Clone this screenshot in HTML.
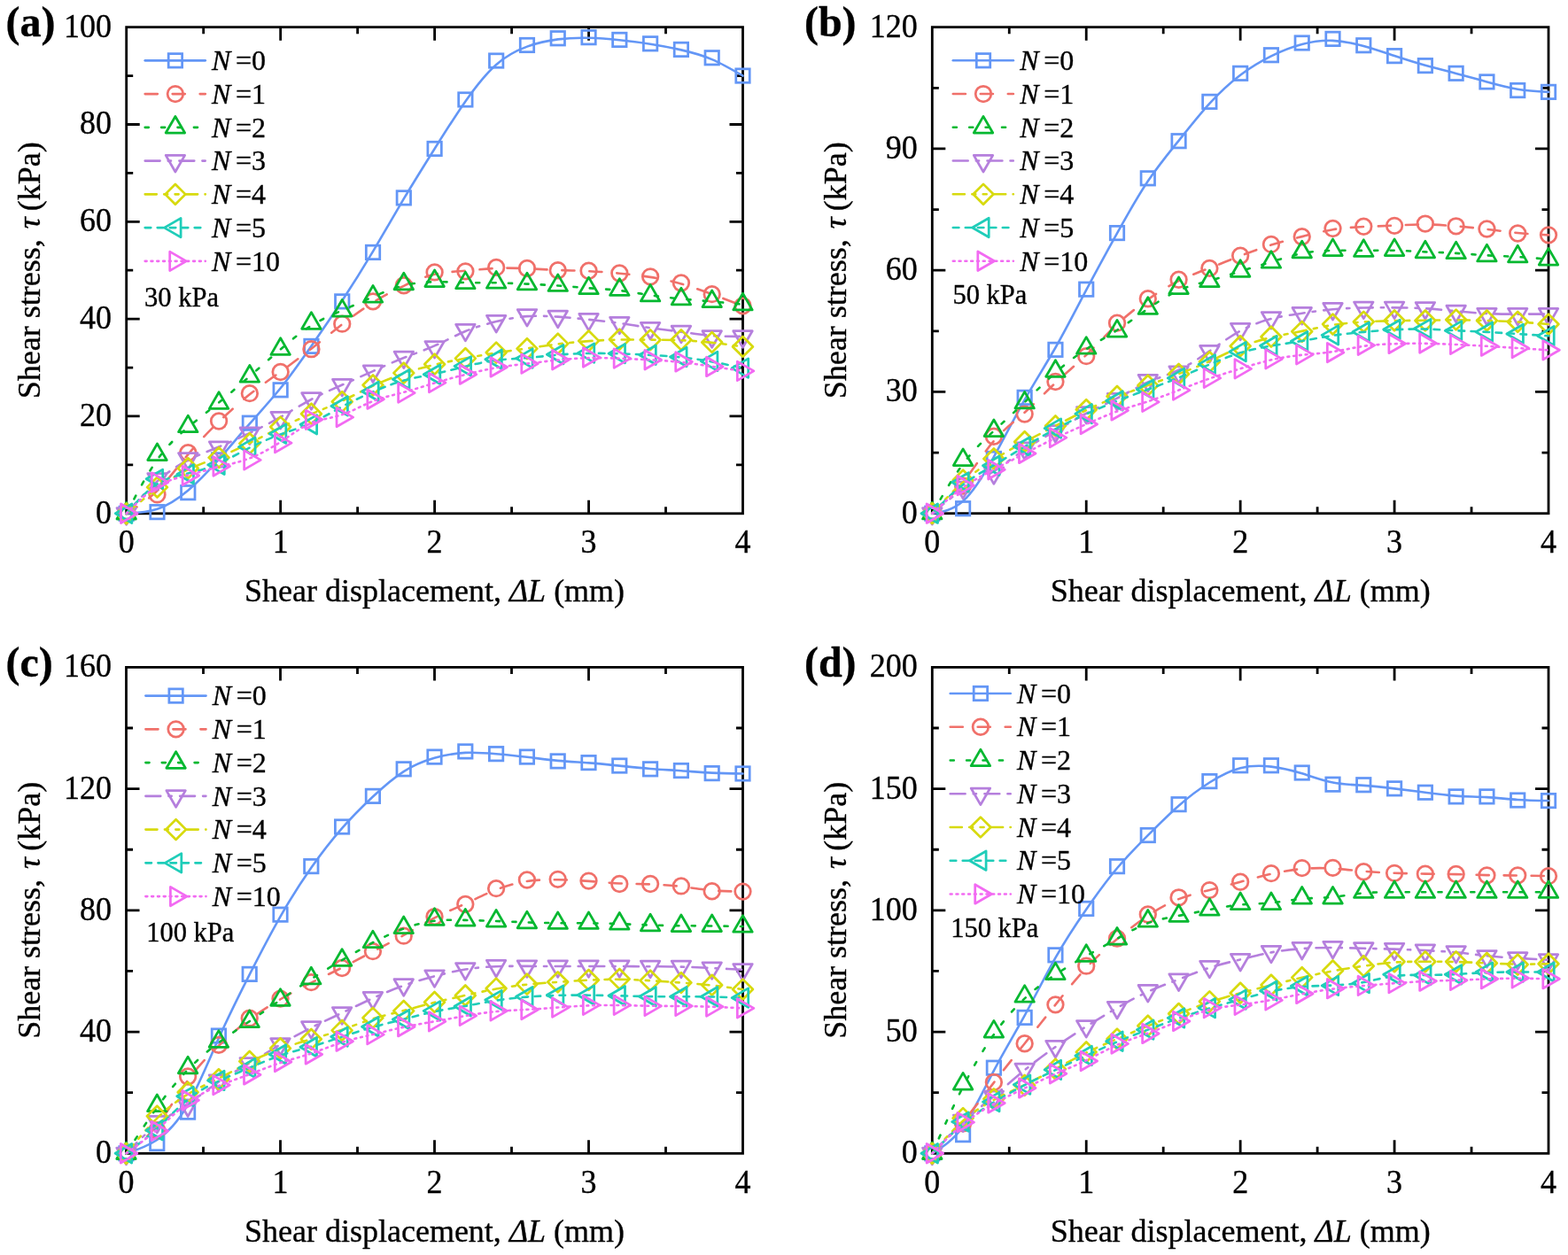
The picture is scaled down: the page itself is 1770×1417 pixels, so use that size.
<!DOCTYPE html>
<html><head><meta charset="utf-8"><style>
html,body{margin:0;padding:0;background:#fff;}
svg{display:block;}
text{font-family:"Liberation Serif","Times New Roman",serif;fill:#000;stroke:#000;stroke-width:0.35px;}
.tk text{font-size:36px;}
.tt{font-size:36px;}
.pl{font-size:48px;font-weight:bold;}
.lg{font-size:32px;}
.pr{font-size:30.5px;}
</style></head><body>
<svg width="1770" height="1417" viewBox="0 0 1770 1417">
<rect width="1770" height="1417" fill="#fff"/>
<path d="M229.67,579.80V572.30M229.67,30.65V38.15M316.65,579.80V564.80M316.65,30.65V45.65M403.62,579.80V572.30M403.62,30.65V38.15M490.60,579.80V564.80M490.60,30.65V45.65M577.58,579.80V572.30M577.58,30.65V38.15M664.55,579.80V564.80M664.55,30.65V45.65M751.52,579.80V572.30M751.52,30.65V38.15M142.70,524.88H150.20M838.50,524.88H831.00M142.70,469.97H157.70M838.50,469.97H823.50M142.70,415.05H150.20M838.50,415.05H831.00M142.70,360.14H157.70M838.50,360.14H823.50M142.70,305.22H150.20M838.50,305.22H831.00M142.70,250.31H157.70M838.50,250.31H823.50M142.70,195.39H150.20M838.50,195.39H831.00M142.70,140.48H157.70M838.50,140.48H823.50M142.70,85.56H150.20M838.50,85.56H831.00" stroke="#000" stroke-width="2.8" fill="none"/>
<rect x="142.70" y="30.65" width="695.80" height="549.15" fill="none" stroke="#000" stroke-width="2.8" stroke-linejoin="miter"/>
<path d="M142.70,579.80C154.30,579.25 165.89,578.70 177.49,574.77C189.09,570.83 200.68,563.51 212.28,553.72C223.88,543.92 235.47,531.66 247.07,518.57C258.67,505.48 270.26,491.57 281.86,478.39C293.46,465.21 305.05,452.76 316.65,438.30C328.25,423.84 339.84,407.37 351.44,390.71C363.04,374.05 374.63,357.21 386.23,339.55C397.83,321.88 409.42,303.39 421.02,283.90C432.62,264.40 444.21,243.90 455.81,224.41C467.41,204.91 479.00,186.43 490.60,167.94C502.20,149.45 513.79,130.96 525.39,114.40C536.99,97.83 548.58,83.19 560.18,72.93C571.78,62.68 583.37,56.83 594.97,52.62C606.57,48.41 618.16,45.84 629.76,44.38C641.36,42.91 652.95,42.55 664.55,42.82C676.15,43.10 687.74,44.01 699.34,45.20C710.94,46.39 722.53,47.86 734.13,49.69C745.73,51.52 757.32,53.71 768.92,56.37C780.52,59.02 792.11,62.13 803.71,67.08C815.31,72.02 826.90,78.79 838.50,85.56" fill="none" stroke="#6396F6" stroke-width="2.6" stroke-linecap="round" stroke-linejoin="round"/>
<rect x="134.98" y="572.08" width="15.44" height="15.44" fill="none" stroke="#6396F6" stroke-width="2.75"/>
<rect x="169.77" y="570.43" width="15.44" height="15.44" fill="none" stroke="#6396F6" stroke-width="2.75"/>
<rect x="204.56" y="548.47" width="15.44" height="15.44" fill="none" stroke="#6396F6" stroke-width="2.75"/>
<rect x="239.35" y="511.67" width="15.44" height="15.44" fill="none" stroke="#6396F6" stroke-width="2.75"/>
<rect x="274.14" y="469.94" width="15.44" height="15.44" fill="none" stroke="#6396F6" stroke-width="2.75"/>
<rect x="308.93" y="432.60" width="15.44" height="15.44" fill="none" stroke="#6396F6" stroke-width="2.75"/>
<rect x="343.72" y="383.17" width="15.44" height="15.44" fill="none" stroke="#6396F6" stroke-width="2.75"/>
<rect x="378.51" y="332.65" width="15.44" height="15.44" fill="none" stroke="#6396F6" stroke-width="2.75"/>
<rect x="413.30" y="277.19" width="15.44" height="15.44" fill="none" stroke="#6396F6" stroke-width="2.75"/>
<rect x="448.09" y="215.68" width="15.44" height="15.44" fill="none" stroke="#6396F6" stroke-width="2.75"/>
<rect x="482.88" y="160.22" width="15.44" height="15.44" fill="none" stroke="#6396F6" stroke-width="2.75"/>
<rect x="517.67" y="104.75" width="15.44" height="15.44" fill="none" stroke="#6396F6" stroke-width="2.75"/>
<rect x="552.46" y="60.82" width="15.44" height="15.44" fill="none" stroke="#6396F6" stroke-width="2.75"/>
<rect x="587.25" y="43.25" width="15.44" height="15.44" fill="none" stroke="#6396F6" stroke-width="2.75"/>
<rect x="622.04" y="35.56" width="15.44" height="15.44" fill="none" stroke="#6396F6" stroke-width="2.75"/>
<rect x="656.83" y="34.46" width="15.44" height="15.44" fill="none" stroke="#6396F6" stroke-width="2.75"/>
<rect x="691.62" y="37.21" width="15.44" height="15.44" fill="none" stroke="#6396F6" stroke-width="2.75"/>
<rect x="726.41" y="41.60" width="15.44" height="15.44" fill="none" stroke="#6396F6" stroke-width="2.75"/>
<rect x="761.20" y="48.19" width="15.44" height="15.44" fill="none" stroke="#6396F6" stroke-width="2.75"/>
<rect x="795.99" y="57.53" width="15.44" height="15.44" fill="none" stroke="#6396F6" stroke-width="2.75"/>
<rect x="830.78" y="77.84" width="15.44" height="15.44" fill="none" stroke="#6396F6" stroke-width="2.75"/>
<path d="M142.70,579.80C154.30,572.66 165.89,565.52 177.49,554.08C189.09,542.64 200.68,526.90 212.28,513.08C223.88,499.26 235.47,487.36 247.07,476.19C258.67,465.03 270.26,454.59 281.86,445.35C293.46,436.11 305.05,428.05 316.65,419.72C328.25,411.39 339.84,402.79 351.44,393.73C363.04,384.67 374.63,375.15 386.23,366.18C397.83,357.21 409.42,348.79 421.02,341.56C432.62,334.33 444.21,328.29 455.81,322.80C467.41,317.31 479.00,312.36 490.60,309.71C502.20,307.06 513.79,306.69 525.39,305.77C536.99,304.86 548.58,303.39 560.18,302.85C571.78,302.30 583.37,302.66 594.97,303.21C606.57,303.76 618.16,304.49 629.76,304.95C641.36,305.41 652.95,305.59 664.55,306.14C676.15,306.69 687.74,307.60 699.34,308.70C710.94,309.80 722.53,311.08 734.13,312.91C745.73,314.74 757.32,317.12 768.92,320.42C780.52,323.71 792.11,327.92 803.71,332.22C815.31,336.53 826.90,340.92 838.50,345.31" fill="none" stroke="#F0706A" stroke-width="2.6" stroke-linecap="round" stroke-linejoin="round" stroke-dasharray="14.1,16.9"/>
<circle cx="142.70" cy="579.80" r="8.8" fill="none" stroke="#F0706A" stroke-width="2.75"/>
<circle cx="177.49" cy="558.38" r="8.8" fill="none" stroke="#F0706A" stroke-width="2.75"/>
<circle cx="212.28" cy="511.16" r="8.8" fill="none" stroke="#F0706A" stroke-width="2.75"/>
<circle cx="247.07" cy="475.46" r="8.8" fill="none" stroke="#F0706A" stroke-width="2.75"/>
<circle cx="281.86" cy="444.16" r="8.8" fill="none" stroke="#F0706A" stroke-width="2.75"/>
<circle cx="316.65" cy="420.00" r="8.8" fill="none" stroke="#F0706A" stroke-width="2.75"/>
<circle cx="351.44" cy="394.19" r="8.8" fill="none" stroke="#F0706A" stroke-width="2.75"/>
<circle cx="386.23" cy="365.63" r="8.8" fill="none" stroke="#F0706A" stroke-width="2.75"/>
<circle cx="421.02" cy="340.37" r="8.8" fill="none" stroke="#F0706A" stroke-width="2.75"/>
<circle cx="455.81" cy="322.25" r="8.8" fill="none" stroke="#F0706A" stroke-width="2.75"/>
<circle cx="490.60" cy="307.42" r="8.8" fill="none" stroke="#F0706A" stroke-width="2.75"/>
<circle cx="525.39" cy="306.32" r="8.8" fill="none" stroke="#F0706A" stroke-width="2.75"/>
<circle cx="560.18" cy="301.93" r="8.8" fill="none" stroke="#F0706A" stroke-width="2.75"/>
<circle cx="594.97" cy="303.03" r="8.8" fill="none" stroke="#F0706A" stroke-width="2.75"/>
<circle cx="629.76" cy="305.22" r="8.8" fill="none" stroke="#F0706A" stroke-width="2.75"/>
<circle cx="664.55" cy="305.77" r="8.8" fill="none" stroke="#F0706A" stroke-width="2.75"/>
<circle cx="699.34" cy="308.52" r="8.8" fill="none" stroke="#F0706A" stroke-width="2.75"/>
<circle cx="734.13" cy="312.36" r="8.8" fill="none" stroke="#F0706A" stroke-width="2.75"/>
<circle cx="768.92" cy="319.50" r="8.8" fill="none" stroke="#F0706A" stroke-width="2.75"/>
<circle cx="803.71" cy="332.13" r="8.8" fill="none" stroke="#F0706A" stroke-width="2.75"/>
<circle cx="838.50" cy="345.31" r="8.8" fill="none" stroke="#F0706A" stroke-width="2.75"/>
<path d="M142.70,579.80C154.30,557.65 165.89,535.50 177.49,519.12C189.09,502.74 200.68,492.12 212.28,482.42C223.88,472.72 235.47,463.93 247.07,454.50C258.67,445.08 270.26,435.01 281.86,424.85C293.46,414.69 305.05,404.44 316.65,394.46C328.25,384.49 339.84,374.78 351.44,367.55C363.04,360.32 374.63,355.56 386.23,350.53C397.83,345.50 409.42,340.19 421.02,335.15C432.62,330.12 444.21,325.36 455.81,322.43C467.41,319.50 479.00,318.40 490.60,318.22C502.20,318.04 513.79,318.77 525.39,319.05C536.99,319.32 548.58,319.14 560.18,319.32C571.78,319.50 583.37,320.05 594.97,320.60C606.57,321.15 618.16,321.70 629.76,322.52C641.36,323.35 652.95,324.45 664.55,325.27C676.15,326.09 687.74,326.64 699.34,328.01C710.94,329.39 722.53,331.58 734.13,333.32C745.73,335.06 757.32,336.34 768.92,337.44C780.52,338.54 792.11,339.46 803.71,340.46C815.31,341.47 826.90,342.57 838.50,343.67" fill="none" stroke="#04B830" stroke-width="2.6" stroke-linecap="round" stroke-linejoin="round" stroke-dasharray="4.1,14.3"/>
<polygon points="142.70,567.40 153.44,586.00 131.96,586.00" fill="none" stroke="#04B830" stroke-width="2.75" stroke-linejoin="round"/>
<polygon points="177.49,500.95 188.23,519.55 166.75,519.55" fill="none" stroke="#04B830" stroke-width="2.75" stroke-linejoin="round"/>
<polygon points="212.28,469.10 223.02,487.70 201.54,487.70" fill="none" stroke="#04B830" stroke-width="2.75" stroke-linejoin="round"/>
<polygon points="247.07,442.74 257.81,461.34 236.33,461.34" fill="none" stroke="#04B830" stroke-width="2.75" stroke-linejoin="round"/>
<polygon points="281.86,412.54 292.60,431.14 271.12,431.14" fill="none" stroke="#04B830" stroke-width="2.75" stroke-linejoin="round"/>
<polygon points="316.65,381.79 327.39,400.39 305.91,400.39" fill="none" stroke="#04B830" stroke-width="2.75" stroke-linejoin="round"/>
<polygon points="351.44,352.68 362.18,371.28 340.70,371.28" fill="none" stroke="#04B830" stroke-width="2.75" stroke-linejoin="round"/>
<polygon points="386.23,338.40 396.97,357.00 375.49,357.00" fill="none" stroke="#04B830" stroke-width="2.75" stroke-linejoin="round"/>
<polygon points="421.02,322.48 431.76,341.08 410.28,341.08" fill="none" stroke="#04B830" stroke-width="2.75" stroke-linejoin="round"/>
<polygon points="455.81,308.20 466.55,326.80 445.07,326.80" fill="none" stroke="#04B830" stroke-width="2.75" stroke-linejoin="round"/>
<polygon points="490.60,304.91 501.34,323.51 479.86,323.51" fill="none" stroke="#04B830" stroke-width="2.75" stroke-linejoin="round"/>
<polygon points="525.39,307.10 536.13,325.70 514.65,325.70" fill="none" stroke="#04B830" stroke-width="2.75" stroke-linejoin="round"/>
<polygon points="560.18,306.55 570.92,325.15 549.44,325.15" fill="none" stroke="#04B830" stroke-width="2.75" stroke-linejoin="round"/>
<polygon points="594.97,308.20 605.71,326.80 584.23,326.80" fill="none" stroke="#04B830" stroke-width="2.75" stroke-linejoin="round"/>
<polygon points="629.76,309.85 640.50,328.45 619.02,328.45" fill="none" stroke="#04B830" stroke-width="2.75" stroke-linejoin="round"/>
<polygon points="664.55,313.14 675.29,331.74 653.81,331.74" fill="none" stroke="#04B830" stroke-width="2.75" stroke-linejoin="round"/>
<polygon points="699.34,314.79 710.08,333.39 688.60,333.39" fill="none" stroke="#04B830" stroke-width="2.75" stroke-linejoin="round"/>
<polygon points="734.13,321.38 744.87,339.98 723.39,339.98" fill="none" stroke="#04B830" stroke-width="2.75" stroke-linejoin="round"/>
<polygon points="768.92,325.22 779.66,343.82 758.18,343.82" fill="none" stroke="#04B830" stroke-width="2.75" stroke-linejoin="round"/>
<polygon points="803.71,327.97 814.45,346.57 792.97,346.57" fill="none" stroke="#04B830" stroke-width="2.75" stroke-linejoin="round"/>
<polygon points="838.50,331.27 849.24,349.87 827.76,349.87" fill="none" stroke="#04B830" stroke-width="2.75" stroke-linejoin="round"/>
<path d="M142.70,579.80C154.30,566.80 165.89,553.81 177.49,543.46C189.09,533.12 200.68,525.43 212.28,519.49C223.88,513.54 235.47,509.33 247.07,504.57C258.67,499.81 270.26,494.50 281.86,488.92C293.46,483.33 305.05,477.48 316.65,470.93C328.25,464.39 339.84,457.16 351.44,450.98C363.04,444.80 374.63,439.68 386.23,434.55C397.83,429.42 409.42,424.30 421.02,419.08C432.62,413.87 444.21,408.56 455.81,403.98C467.41,399.40 479.00,395.56 490.60,390.43C502.20,385.31 513.79,378.90 525.39,374.05C536.99,369.20 548.58,365.91 560.18,363.11C571.78,360.32 583.37,358.03 594.97,357.17C606.57,356.30 618.16,356.85 629.76,357.67C641.36,358.49 652.95,359.59 664.55,360.78C676.15,361.97 687.74,363.25 699.34,364.90C710.94,366.55 722.53,368.56 734.13,370.21C745.73,371.86 757.32,373.14 768.92,374.69C780.52,376.25 792.11,378.08 803.71,378.99C815.31,379.91 826.90,379.91 838.50,379.91" fill="none" stroke="#B57FDD" stroke-width="2.6" stroke-linecap="round" stroke-linejoin="round" stroke-dasharray="16.9,9.1,3.3,9.4"/>
<polygon points="142.70,592.20 153.44,573.60 131.96,573.60" fill="none" stroke="#B57FDD" stroke-width="2.75" stroke-linejoin="round"/>
<polygon points="177.49,553.21 188.23,534.61 166.75,534.61" fill="none" stroke="#B57FDD" stroke-width="2.75" stroke-linejoin="round"/>
<polygon points="212.28,530.15 223.02,511.55 201.54,511.55" fill="none" stroke="#B57FDD" stroke-width="2.75" stroke-linejoin="round"/>
<polygon points="247.07,517.52 257.81,498.92 236.33,498.92" fill="none" stroke="#B57FDD" stroke-width="2.75" stroke-linejoin="round"/>
<polygon points="281.86,501.59 292.60,482.99 271.12,482.99" fill="none" stroke="#B57FDD" stroke-width="2.75" stroke-linejoin="round"/>
<polygon points="316.65,484.02 327.39,465.42 305.91,465.42" fill="none" stroke="#B57FDD" stroke-width="2.75" stroke-linejoin="round"/>
<polygon points="351.44,462.33 362.18,443.73 340.70,443.73" fill="none" stroke="#B57FDD" stroke-width="2.75" stroke-linejoin="round"/>
<polygon points="386.23,446.95 396.97,428.35 375.49,428.35" fill="none" stroke="#B57FDD" stroke-width="2.75" stroke-linejoin="round"/>
<polygon points="421.02,431.57 431.76,412.97 410.28,412.97" fill="none" stroke="#B57FDD" stroke-width="2.75" stroke-linejoin="round"/>
<polygon points="455.81,415.65 466.55,397.05 445.07,397.05" fill="none" stroke="#B57FDD" stroke-width="2.75" stroke-linejoin="round"/>
<polygon points="490.60,404.12 501.34,385.52 479.86,385.52" fill="none" stroke="#B57FDD" stroke-width="2.75" stroke-linejoin="round"/>
<polygon points="525.39,384.90 536.13,366.30 514.65,366.30" fill="none" stroke="#B57FDD" stroke-width="2.75" stroke-linejoin="round"/>
<polygon points="560.18,375.01 570.92,356.41 549.44,356.41" fill="none" stroke="#B57FDD" stroke-width="2.75" stroke-linejoin="round"/>
<polygon points="594.97,368.15 605.71,349.55 584.23,349.55" fill="none" stroke="#B57FDD" stroke-width="2.75" stroke-linejoin="round"/>
<polygon points="629.76,369.79 640.50,351.19 619.02,351.19" fill="none" stroke="#B57FDD" stroke-width="2.75" stroke-linejoin="round"/>
<polygon points="664.55,373.09 675.29,354.49 653.81,354.49" fill="none" stroke="#B57FDD" stroke-width="2.75" stroke-linejoin="round"/>
<polygon points="699.34,376.93 710.08,358.33 688.60,358.33" fill="none" stroke="#B57FDD" stroke-width="2.75" stroke-linejoin="round"/>
<polygon points="734.13,382.97 744.87,364.37 723.39,364.37" fill="none" stroke="#B57FDD" stroke-width="2.75" stroke-linejoin="round"/>
<polygon points="768.92,386.82 779.66,368.22 758.18,368.22" fill="none" stroke="#B57FDD" stroke-width="2.75" stroke-linejoin="round"/>
<polygon points="803.71,392.31 814.45,373.71 792.97,373.71" fill="none" stroke="#B57FDD" stroke-width="2.75" stroke-linejoin="round"/>
<polygon points="838.50,392.31 849.24,373.71 827.76,373.71" fill="none" stroke="#B57FDD" stroke-width="2.75" stroke-linejoin="round"/>
<path d="M142.70,579.80C154.30,569.92 165.89,560.03 177.49,551.52C189.09,543.01 200.68,535.87 212.28,530.28C223.88,524.70 235.47,520.67 247.07,516.01C258.67,511.34 270.26,506.03 281.86,500.26C293.46,494.50 305.05,488.27 316.65,482.69C328.25,477.11 339.84,472.17 351.44,467.41C363.04,462.65 374.63,458.07 386.23,452.67C397.83,447.27 409.42,441.05 421.02,435.65C432.62,430.25 444.21,425.67 455.81,421.74C467.41,417.80 479.00,414.51 490.60,411.76C502.20,409.01 513.79,406.82 525.39,404.62C536.99,402.42 548.58,400.23 560.18,398.40C571.78,396.57 583.37,395.10 594.97,393.46C606.57,391.81 618.16,389.98 629.76,388.51C641.36,387.05 652.95,385.95 664.55,385.13C676.15,384.30 687.74,383.75 699.34,383.57C710.94,383.39 722.53,383.57 734.13,383.66C745.73,383.75 757.32,383.75 768.92,384.21C780.52,384.67 792.11,385.58 803.71,386.87C815.31,388.15 826.90,389.79 838.50,391.44" fill="none" stroke="#D7DA0E" stroke-width="2.6" stroke-linecap="round" stroke-linejoin="round" stroke-dasharray="13.1,8.4,4.0,8.4,4.0,8.4"/>
<polygon points="142.70,568.40 154.10,579.80 142.70,591.20 131.30,579.80" fill="none" stroke="#D7DA0E" stroke-width="2.75" stroke-linejoin="round"/>
<polygon points="177.49,538.75 188.89,550.15 177.49,561.55 166.09,550.15" fill="none" stroke="#D7DA0E" stroke-width="2.75" stroke-linejoin="round"/>
<polygon points="212.28,517.33 223.68,528.73 212.28,540.13 200.88,528.73" fill="none" stroke="#D7DA0E" stroke-width="2.75" stroke-linejoin="round"/>
<polygon points="247.07,505.25 258.47,516.65 247.07,528.05 235.67,516.65" fill="none" stroke="#D7DA0E" stroke-width="2.75" stroke-linejoin="round"/>
<polygon points="281.86,489.32 293.26,500.72 281.86,512.12 270.46,500.72" fill="none" stroke="#D7DA0E" stroke-width="2.75" stroke-linejoin="round"/>
<polygon points="316.65,470.65 328.05,482.05 316.65,493.45 305.25,482.05" fill="none" stroke="#D7DA0E" stroke-width="2.75" stroke-linejoin="round"/>
<polygon points="351.44,455.82 362.84,467.22 351.44,478.62 340.04,467.22" fill="none" stroke="#D7DA0E" stroke-width="2.75" stroke-linejoin="round"/>
<polygon points="386.23,442.10 397.63,453.50 386.23,464.90 374.83,453.50" fill="none" stroke="#D7DA0E" stroke-width="2.75" stroke-linejoin="round"/>
<polygon points="421.02,423.42 432.42,434.82 421.02,446.22 409.62,434.82" fill="none" stroke="#D7DA0E" stroke-width="2.75" stroke-linejoin="round"/>
<polygon points="455.81,409.70 467.21,421.10 455.81,432.50 444.41,421.10" fill="none" stroke="#D7DA0E" stroke-width="2.75" stroke-linejoin="round"/>
<polygon points="490.60,399.81 502.00,411.21 490.60,422.61 479.20,411.21" fill="none" stroke="#D7DA0E" stroke-width="2.75" stroke-linejoin="round"/>
<polygon points="525.39,393.22 536.79,404.62 525.39,416.02 513.99,404.62" fill="none" stroke="#D7DA0E" stroke-width="2.75" stroke-linejoin="round"/>
<polygon points="560.18,386.63 571.58,398.03 560.18,409.43 548.78,398.03" fill="none" stroke="#D7DA0E" stroke-width="2.75" stroke-linejoin="round"/>
<polygon points="594.97,382.24 606.37,393.64 594.97,405.04 583.57,393.64" fill="none" stroke="#D7DA0E" stroke-width="2.75" stroke-linejoin="round"/>
<polygon points="629.76,376.75 641.16,388.15 629.76,399.55 618.36,388.15" fill="none" stroke="#D7DA0E" stroke-width="2.75" stroke-linejoin="round"/>
<polygon points="664.55,373.45 675.95,384.85 664.55,396.25 653.15,384.85" fill="none" stroke="#D7DA0E" stroke-width="2.75" stroke-linejoin="round"/>
<polygon points="699.34,371.80 710.74,383.20 699.34,394.60 687.94,383.20" fill="none" stroke="#D7DA0E" stroke-width="2.75" stroke-linejoin="round"/>
<polygon points="734.13,372.35 745.53,383.75 734.13,395.15 722.73,383.75" fill="none" stroke="#D7DA0E" stroke-width="2.75" stroke-linejoin="round"/>
<polygon points="768.92,372.35 780.32,383.75 768.92,395.15 757.52,383.75" fill="none" stroke="#D7DA0E" stroke-width="2.75" stroke-linejoin="round"/>
<polygon points="803.71,375.10 815.11,386.50 803.71,397.90 792.31,386.50" fill="none" stroke="#D7DA0E" stroke-width="2.75" stroke-linejoin="round"/>
<polygon points="838.50,380.04 849.90,391.44 838.50,402.84 827.10,391.44" fill="none" stroke="#D7DA0E" stroke-width="2.75" stroke-linejoin="round"/>
<path d="M142.70,579.80C154.30,566.80 165.89,553.81 177.49,546.39C189.09,538.98 200.68,537.15 212.28,534.50C223.88,531.84 235.47,528.36 247.07,523.24C258.67,518.11 270.26,511.34 281.86,505.48C293.46,499.62 305.05,494.68 316.65,490.47C328.25,486.26 339.84,482.78 351.44,477.57C363.04,472.35 374.63,465.39 386.23,459.17C397.83,452.95 409.42,447.45 421.02,442.42C432.62,437.39 444.21,432.81 455.81,429.61C467.41,426.40 479.00,424.57 490.60,422.10C502.20,419.63 513.79,416.52 525.39,413.68C536.99,410.84 548.58,408.28 560.18,406.82C571.78,405.35 583.37,404.99 594.97,404.07C606.57,403.16 618.16,401.69 629.76,400.69C641.36,399.68 652.95,399.13 664.55,398.95C676.15,398.76 687.74,398.95 699.34,399.31C710.94,399.68 722.53,400.23 734.13,400.87C745.73,401.51 757.32,402.24 768.92,403.43C780.52,404.62 792.11,406.27 803.71,408.37C815.31,410.48 826.90,413.04 838.50,415.60" fill="none" stroke="#1FCDB9" stroke-width="2.6" stroke-linecap="round" stroke-linejoin="round" stroke-dasharray="6.6,7.4"/>
<polygon points="130.30,579.80 148.90,569.06 148.90,590.54" fill="none" stroke="#1FCDB9" stroke-width="2.75" stroke-linejoin="round"/>
<polygon points="165.09,540.81 183.69,530.07 183.69,551.55" fill="none" stroke="#1FCDB9" stroke-width="2.75" stroke-linejoin="round"/>
<polygon points="199.88,535.32 218.48,524.58 218.48,546.06" fill="none" stroke="#1FCDB9" stroke-width="2.75" stroke-linejoin="round"/>
<polygon points="234.67,524.88 253.27,514.15 253.27,535.62" fill="none" stroke="#1FCDB9" stroke-width="2.75" stroke-linejoin="round"/>
<polygon points="269.46,504.57 288.06,493.83 288.06,515.30" fill="none" stroke="#1FCDB9" stroke-width="2.75" stroke-linejoin="round"/>
<polygon points="304.25,489.74 322.85,479.00 322.85,500.48" fill="none" stroke="#1FCDB9" stroke-width="2.75" stroke-linejoin="round"/>
<polygon points="339.04,479.31 357.64,468.57 357.64,490.04" fill="none" stroke="#1FCDB9" stroke-width="2.75" stroke-linejoin="round"/>
<polygon points="373.83,458.44 392.43,447.70 392.43,469.18" fill="none" stroke="#1FCDB9" stroke-width="2.75" stroke-linejoin="round"/>
<polygon points="408.62,441.96 427.22,431.22 427.22,452.70" fill="none" stroke="#1FCDB9" stroke-width="2.75" stroke-linejoin="round"/>
<polygon points="443.41,428.23 462.01,417.50 462.01,438.97" fill="none" stroke="#1FCDB9" stroke-width="2.75" stroke-linejoin="round"/>
<polygon points="478.20,422.74 496.80,412.00 496.80,433.48" fill="none" stroke="#1FCDB9" stroke-width="2.75" stroke-linejoin="round"/>
<polygon points="512.99,413.41 531.59,402.67 531.59,424.15" fill="none" stroke="#1FCDB9" stroke-width="2.75" stroke-linejoin="round"/>
<polygon points="547.78,405.72 566.38,394.98 566.38,416.46" fill="none" stroke="#1FCDB9" stroke-width="2.75" stroke-linejoin="round"/>
<polygon points="582.57,404.62 601.17,393.88 601.17,415.36" fill="none" stroke="#1FCDB9" stroke-width="2.75" stroke-linejoin="round"/>
<polygon points="617.36,400.23 635.96,389.49 635.96,410.97" fill="none" stroke="#1FCDB9" stroke-width="2.75" stroke-linejoin="round"/>
<polygon points="652.15,398.58 670.75,387.84 670.75,409.32" fill="none" stroke="#1FCDB9" stroke-width="2.75" stroke-linejoin="round"/>
<polygon points="686.94,399.13 705.54,388.39 705.54,409.87" fill="none" stroke="#1FCDB9" stroke-width="2.75" stroke-linejoin="round"/>
<polygon points="721.73,400.78 740.33,390.04 740.33,411.52" fill="none" stroke="#1FCDB9" stroke-width="2.75" stroke-linejoin="round"/>
<polygon points="756.52,402.97 775.12,392.24 775.12,413.71" fill="none" stroke="#1FCDB9" stroke-width="2.75" stroke-linejoin="round"/>
<polygon points="791.31,407.92 809.91,397.18 809.91,418.65" fill="none" stroke="#1FCDB9" stroke-width="2.75" stroke-linejoin="round"/>
<polygon points="826.10,415.60 844.70,404.87 844.70,426.34" fill="none" stroke="#1FCDB9" stroke-width="2.75" stroke-linejoin="round"/>
<path d="M142.70,579.80C154.30,568.08 165.89,556.37 177.49,549.23C189.09,542.09 200.68,539.53 212.28,536.51C223.88,533.49 235.47,530.01 247.07,527.08C258.67,524.15 270.26,521.77 281.86,517.38C293.46,512.99 305.05,506.58 316.65,498.98C328.25,491.39 339.84,482.60 351.44,477.75C363.04,472.90 374.63,471.98 386.23,468.14C397.83,464.30 409.42,457.52 421.02,452.95C432.62,448.37 444.21,445.99 455.81,442.88C467.41,439.77 479.00,435.92 490.60,432.44C502.20,428.97 513.79,425.85 525.39,422.93C536.99,420.00 548.58,417.25 560.18,415.24C571.78,413.22 583.37,411.94 594.97,410.57C606.57,409.20 618.16,407.73 629.76,406.54C641.36,405.35 652.95,404.44 664.55,404.16C676.15,403.89 687.74,404.26 699.34,404.71C710.94,405.17 722.53,405.72 734.13,406.36C745.73,407.00 757.32,407.73 768.92,409.01C780.52,410.30 792.11,412.13 803.71,413.87C815.31,415.60 826.90,417.25 838.50,418.90" fill="none" stroke="#F26AF2" stroke-width="2.6" stroke-linecap="round" stroke-linejoin="round" stroke-dasharray="1.9,4.9"/>
<polygon points="155.10,579.80 136.50,569.06 136.50,590.54" fill="none" stroke="#F26AF2" stroke-width="2.75" stroke-linejoin="round"/>
<polygon points="189.89,544.65 171.29,533.92 171.29,555.39" fill="none" stroke="#F26AF2" stroke-width="2.75" stroke-linejoin="round"/>
<polygon points="224.68,536.97 206.08,526.23 206.08,547.70" fill="none" stroke="#F26AF2" stroke-width="2.75" stroke-linejoin="round"/>
<polygon points="259.47,526.53 240.87,515.79 240.87,537.27" fill="none" stroke="#F26AF2" stroke-width="2.75" stroke-linejoin="round"/>
<polygon points="294.26,519.39 275.66,508.66 275.66,530.13" fill="none" stroke="#F26AF2" stroke-width="2.75" stroke-linejoin="round"/>
<polygon points="329.05,500.17 310.45,489.43 310.45,510.91" fill="none" stroke="#F26AF2" stroke-width="2.75" stroke-linejoin="round"/>
<polygon points="363.84,473.81 345.24,463.08 345.24,484.55" fill="none" stroke="#F26AF2" stroke-width="2.75" stroke-linejoin="round"/>
<polygon points="398.63,471.07 380.03,460.33 380.03,481.81" fill="none" stroke="#F26AF2" stroke-width="2.75" stroke-linejoin="round"/>
<polygon points="433.42,450.75 414.82,440.01 414.82,461.49" fill="none" stroke="#F26AF2" stroke-width="2.75" stroke-linejoin="round"/>
<polygon points="468.21,443.61 449.61,432.87 449.61,454.35" fill="none" stroke="#F26AF2" stroke-width="2.75" stroke-linejoin="round"/>
<polygon points="503.00,432.08 484.40,421.34 484.40,442.82" fill="none" stroke="#F26AF2" stroke-width="2.75" stroke-linejoin="round"/>
<polygon points="537.79,422.74 519.19,412.00 519.19,433.48" fill="none" stroke="#F26AF2" stroke-width="2.75" stroke-linejoin="round"/>
<polygon points="572.58,414.51 553.98,403.77 553.98,425.24" fill="none" stroke="#F26AF2" stroke-width="2.75" stroke-linejoin="round"/>
<polygon points="607.37,410.66 588.77,399.92 588.77,421.40" fill="none" stroke="#F26AF2" stroke-width="2.75" stroke-linejoin="round"/>
<polygon points="642.16,406.27 623.56,395.53 623.56,417.01" fill="none" stroke="#F26AF2" stroke-width="2.75" stroke-linejoin="round"/>
<polygon points="676.95,403.52 658.35,392.78 658.35,414.26" fill="none" stroke="#F26AF2" stroke-width="2.75" stroke-linejoin="round"/>
<polygon points="711.74,404.62 693.14,393.88 693.14,415.36" fill="none" stroke="#F26AF2" stroke-width="2.75" stroke-linejoin="round"/>
<polygon points="746.53,406.27 727.93,395.53 727.93,417.01" fill="none" stroke="#F26AF2" stroke-width="2.75" stroke-linejoin="round"/>
<polygon points="781.32,408.47 762.72,397.73 762.72,419.20" fill="none" stroke="#F26AF2" stroke-width="2.75" stroke-linejoin="round"/>
<polygon points="816.11,413.96 797.51,403.22 797.51,424.70" fill="none" stroke="#F26AF2" stroke-width="2.75" stroke-linejoin="round"/>
<polygon points="850.90,418.90 832.30,408.16 832.30,429.64" fill="none" stroke="#F26AF2" stroke-width="2.75" stroke-linejoin="round"/>
<g class="tk"><text transform="translate(142.70,624.30) scale(1,1.065)" text-anchor="middle">0</text><text transform="translate(316.65,624.30) scale(1,1.065)" text-anchor="middle">1</text><text transform="translate(490.60,624.30) scale(1,1.065)" text-anchor="middle">2</text><text transform="translate(664.55,624.30) scale(1,1.065)" text-anchor="middle">3</text><text transform="translate(838.50,624.30) scale(1,1.065)" text-anchor="middle">4</text><text transform="translate(126.10,590.80) scale(1,1.065)" text-anchor="end">0</text><text transform="translate(126.10,480.97) scale(1,1.065)" text-anchor="end">20</text><text transform="translate(126.10,371.14) scale(1,1.065)" text-anchor="end">40</text><text transform="translate(126.10,261.31) scale(1,1.065)" text-anchor="end">60</text><text transform="translate(126.10,151.48) scale(1,1.065)" text-anchor="end">80</text><text transform="translate(126.10,41.65) scale(1,1.065)" text-anchor="end">100</text></g>
<text class="tt" x="490.60" y="679.00" text-anchor="middle">Shear displacement, <tspan font-style="italic">ΔL</tspan> (mm)</text>
<text class="tt" transform="translate(45.00,305.22) rotate(-90)" text-anchor="middle">Shear stress, <tspan font-style="italic" dx="3">τ</tspan><tspan dx="-1.8"> (kPa)</tspan></text>
<text class="pl" x="6.40" y="40.80">(a)</text>
<path d="M163.70,68.35H231.80" fill="none" stroke="#6396F6" stroke-width="2.6" stroke-linecap="round" stroke-linejoin="round"/>
<rect x="190.18" y="60.63" width="15.44" height="15.44" fill="none" stroke="#6396F6" stroke-width="2.75"/>
<text class="lg" x="239.10" y="79.05"><tspan font-style="italic">N</tspan><tspan dx="-2.4"> =0</tspan></text>
<path d="M163.70,106.10H231.80" fill="none" stroke="#F0706A" stroke-width="2.6" stroke-linecap="round" stroke-linejoin="round" stroke-dasharray="14.1,16.9"/>
<circle cx="197.90" cy="106.10" r="8.8" fill="none" stroke="#F0706A" stroke-width="2.75"/>
<text class="lg" x="239.10" y="116.80"><tspan font-style="italic">N</tspan><tspan dx="-2.4"> =1</tspan></text>
<path d="M163.70,143.85H231.80" fill="none" stroke="#04B830" stroke-width="2.6" stroke-linecap="round" stroke-linejoin="round" stroke-dasharray="4.1,14.3"/>
<polygon points="197.90,131.45 208.64,150.05 187.16,150.05" fill="none" stroke="#04B830" stroke-width="2.75" stroke-linejoin="round"/>
<text class="lg" x="239.10" y="154.55"><tspan font-style="italic">N</tspan><tspan dx="-2.4"> =2</tspan></text>
<path d="M163.70,181.60H231.80" fill="none" stroke="#B57FDD" stroke-width="2.6" stroke-linecap="round" stroke-linejoin="round" stroke-dasharray="16.9,9.1,3.3,9.4"/>
<polygon points="197.90,194.00 208.64,175.40 187.16,175.40" fill="none" stroke="#B57FDD" stroke-width="2.75" stroke-linejoin="round"/>
<text class="lg" x="239.10" y="192.30"><tspan font-style="italic">N</tspan><tspan dx="-2.4"> =3</tspan></text>
<path d="M163.70,219.35H231.80" fill="none" stroke="#D7DA0E" stroke-width="2.6" stroke-linecap="round" stroke-linejoin="round" stroke-dasharray="13.1,8.4,4.0,8.4,4.0,8.4"/>
<polygon points="197.90,207.95 209.30,219.35 197.90,230.75 186.50,219.35" fill="none" stroke="#D7DA0E" stroke-width="2.75" stroke-linejoin="round"/>
<text class="lg" x="239.10" y="230.05"><tspan font-style="italic">N</tspan><tspan dx="-2.4"> =4</tspan></text>
<path d="M163.70,257.10H231.80" fill="none" stroke="#1FCDB9" stroke-width="2.6" stroke-linecap="round" stroke-linejoin="round" stroke-dasharray="6.6,7.4"/>
<polygon points="185.50,257.10 204.10,246.36 204.10,267.84" fill="none" stroke="#1FCDB9" stroke-width="2.75" stroke-linejoin="round"/>
<text class="lg" x="239.10" y="267.80"><tspan font-style="italic">N</tspan><tspan dx="-2.4"> =5</tspan></text>
<path d="M163.70,294.85H231.80" fill="none" stroke="#F26AF2" stroke-width="2.6" stroke-linecap="round" stroke-linejoin="round" stroke-dasharray="1.9,4.9"/>
<polygon points="210.30,294.85 191.70,284.11 191.70,305.59" fill="none" stroke="#F26AF2" stroke-width="2.75" stroke-linejoin="round"/>
<text class="lg" x="239.10" y="305.55"><tspan font-style="italic">N</tspan><tspan dx="-2.4"> =10</tspan></text>
<text class="pr" x="163.10" y="346.40">30 kPa</text>
<path d="M1139.26,579.70V572.20M1139.26,30.65V38.15M1226.22,579.70V564.70M1226.22,30.65V45.65M1313.19,579.70V572.20M1313.19,30.65V38.15M1400.15,579.70V564.70M1400.15,30.65V45.65M1487.11,579.70V572.20M1487.11,30.65V38.15M1574.08,579.70V564.70M1574.08,30.65V45.65M1661.04,579.70V572.20M1661.04,30.65V38.15M1052.30,511.07H1059.80M1748.00,511.07H1740.50M1052.30,442.44H1067.30M1748.00,442.44H1733.00M1052.30,373.81H1059.80M1748.00,373.81H1740.50M1052.30,305.18H1067.30M1748.00,305.18H1733.00M1052.30,236.54H1059.80M1748.00,236.54H1740.50M1052.30,167.91H1067.30M1748.00,167.91H1733.00M1052.30,99.28H1059.80M1748.00,99.28H1740.50" stroke="#000" stroke-width="2.8" fill="none"/>
<rect x="1052.30" y="30.65" width="695.70" height="549.05" fill="none" stroke="#000" stroke-width="2.8" stroke-linejoin="miter"/>
<path d="M1052.30,579.70C1063.89,577.87 1075.49,576.04 1087.09,565.74C1098.68,555.45 1110.27,536.69 1121.87,515.80C1133.46,494.90 1145.06,471.87 1156.65,451.36C1168.25,430.85 1179.85,412.85 1191.44,392.49C1203.04,372.13 1214.63,349.40 1226.23,327.44C1237.82,305.48 1249.41,284.28 1261.01,263.39C1272.61,242.49 1284.20,221.90 1295.80,204.59C1307.39,187.28 1318.98,173.25 1330.58,158.84C1342.17,144.43 1353.77,129.63 1365.37,116.90C1376.96,104.16 1388.56,93.49 1400.15,84.72C1411.75,75.95 1423.34,69.08 1434.93,63.36C1446.53,57.64 1458.12,53.07 1469.72,50.02C1481.31,46.97 1492.91,45.44 1504.51,45.90C1516.10,46.36 1527.69,48.80 1539.29,52.00C1550.88,55.20 1562.48,59.17 1574.08,62.98C1585.67,66.80 1597.27,70.46 1608.86,73.74C1620.45,77.01 1632.05,79.91 1643.65,82.96C1655.24,86.01 1666.84,89.22 1678.43,92.42C1690.03,95.62 1701.62,98.82 1713.22,100.73C1724.81,102.64 1736.40,103.25 1748.00,103.86" fill="none" stroke="#6396F6" stroke-width="2.6" stroke-linecap="round" stroke-linejoin="round"/>
<rect x="1044.58" y="571.98" width="15.44" height="15.44" fill="none" stroke="#6396F6" stroke-width="2.75"/>
<rect x="1079.37" y="566.49" width="15.44" height="15.44" fill="none" stroke="#6396F6" stroke-width="2.75"/>
<rect x="1114.15" y="510.21" width="15.44" height="15.44" fill="none" stroke="#6396F6" stroke-width="2.75"/>
<rect x="1148.93" y="441.12" width="15.44" height="15.44" fill="none" stroke="#6396F6" stroke-width="2.75"/>
<rect x="1183.72" y="387.13" width="15.44" height="15.44" fill="none" stroke="#6396F6" stroke-width="2.75"/>
<rect x="1218.50" y="318.96" width="15.44" height="15.44" fill="none" stroke="#6396F6" stroke-width="2.75"/>
<rect x="1253.29" y="255.36" width="15.44" height="15.44" fill="none" stroke="#6396F6" stroke-width="2.75"/>
<rect x="1288.08" y="193.59" width="15.44" height="15.44" fill="none" stroke="#6396F6" stroke-width="2.75"/>
<rect x="1322.86" y="151.50" width="15.44" height="15.44" fill="none" stroke="#6396F6" stroke-width="2.75"/>
<rect x="1357.64" y="107.12" width="15.44" height="15.44" fill="none" stroke="#6396F6" stroke-width="2.75"/>
<rect x="1392.43" y="75.09" width="15.44" height="15.44" fill="none" stroke="#6396F6" stroke-width="2.75"/>
<rect x="1427.21" y="54.50" width="15.44" height="15.44" fill="none" stroke="#6396F6" stroke-width="2.75"/>
<rect x="1462.00" y="40.77" width="15.44" height="15.44" fill="none" stroke="#6396F6" stroke-width="2.75"/>
<rect x="1496.79" y="36.20" width="15.44" height="15.44" fill="none" stroke="#6396F6" stroke-width="2.75"/>
<rect x="1531.57" y="43.52" width="15.44" height="15.44" fill="none" stroke="#6396F6" stroke-width="2.75"/>
<rect x="1566.36" y="55.42" width="15.44" height="15.44" fill="none" stroke="#6396F6" stroke-width="2.75"/>
<rect x="1601.14" y="66.40" width="15.44" height="15.44" fill="none" stroke="#6396F6" stroke-width="2.75"/>
<rect x="1635.92" y="75.09" width="15.44" height="15.44" fill="none" stroke="#6396F6" stroke-width="2.75"/>
<rect x="1670.71" y="84.70" width="15.44" height="15.44" fill="none" stroke="#6396F6" stroke-width="2.75"/>
<rect x="1705.50" y="94.31" width="15.44" height="15.44" fill="none" stroke="#6396F6" stroke-width="2.75"/>
<rect x="1740.28" y="96.14" width="15.44" height="15.44" fill="none" stroke="#6396F6" stroke-width="2.75"/>
<path d="M1052.30,579.70C1063.89,569.33 1075.49,558.96 1087.09,544.47C1098.68,529.98 1110.27,511.37 1121.87,497.88C1133.46,484.38 1145.06,475.99 1156.65,465.70C1168.25,455.40 1179.85,443.20 1191.44,432.30C1203.04,421.39 1214.63,411.78 1226.23,400.72C1237.82,389.67 1249.41,377.16 1261.01,366.33C1272.61,355.50 1284.20,346.35 1295.80,338.19C1307.39,330.03 1318.98,322.87 1330.58,317.15C1342.17,311.43 1353.77,307.16 1365.37,302.66C1376.96,298.16 1388.56,293.43 1400.15,288.93C1411.75,284.43 1423.34,280.16 1434.93,276.58C1446.53,272.99 1458.12,270.10 1469.72,267.12C1481.31,264.15 1492.91,261.10 1504.51,259.19C1516.10,257.29 1527.69,256.52 1539.29,255.99C1550.88,255.46 1562.48,255.15 1574.08,254.62C1585.67,254.08 1597.27,253.32 1608.86,253.40C1620.45,253.47 1632.05,254.39 1643.65,255.38C1655.24,256.37 1666.84,257.44 1678.43,258.81C1690.03,260.18 1701.62,261.86 1713.22,263.00C1724.81,264.15 1736.40,264.76 1748.00,265.37" fill="none" stroke="#F0706A" stroke-width="2.6" stroke-linecap="round" stroke-linejoin="round" stroke-dasharray="14.1,16.9"/>
<circle cx="1052.30" cy="579.70" r="8.8" fill="none" stroke="#F0706A" stroke-width="2.75"/>
<circle cx="1087.09" cy="548.59" r="8.8" fill="none" stroke="#F0706A" stroke-width="2.75"/>
<circle cx="1121.87" cy="492.77" r="8.8" fill="none" stroke="#F0706A" stroke-width="2.75"/>
<circle cx="1156.65" cy="467.60" r="8.8" fill="none" stroke="#F0706A" stroke-width="2.75"/>
<circle cx="1191.44" cy="431.00" r="8.8" fill="none" stroke="#F0706A" stroke-width="2.75"/>
<circle cx="1226.22" cy="402.17" r="8.8" fill="none" stroke="#F0706A" stroke-width="2.75"/>
<circle cx="1261.01" cy="364.66" r="8.8" fill="none" stroke="#F0706A" stroke-width="2.75"/>
<circle cx="1295.80" cy="337.20" r="8.8" fill="none" stroke="#F0706A" stroke-width="2.75"/>
<circle cx="1330.58" cy="315.70" r="8.8" fill="none" stroke="#F0706A" stroke-width="2.75"/>
<circle cx="1365.37" cy="302.89" r="8.8" fill="none" stroke="#F0706A" stroke-width="2.75"/>
<circle cx="1400.15" cy="288.70" r="8.8" fill="none" stroke="#F0706A" stroke-width="2.75"/>
<circle cx="1434.93" cy="275.89" r="8.8" fill="none" stroke="#F0706A" stroke-width="2.75"/>
<circle cx="1469.72" cy="267.20" r="8.8" fill="none" stroke="#F0706A" stroke-width="2.75"/>
<circle cx="1504.51" cy="258.05" r="8.8" fill="none" stroke="#F0706A" stroke-width="2.75"/>
<circle cx="1539.29" cy="255.76" r="8.8" fill="none" stroke="#F0706A" stroke-width="2.75"/>
<circle cx="1574.08" cy="254.85" r="8.8" fill="none" stroke="#F0706A" stroke-width="2.75"/>
<circle cx="1608.86" cy="252.56" r="8.8" fill="none" stroke="#F0706A" stroke-width="2.75"/>
<circle cx="1643.64" cy="255.30" r="8.8" fill="none" stroke="#F0706A" stroke-width="2.75"/>
<circle cx="1678.43" cy="258.51" r="8.8" fill="none" stroke="#F0706A" stroke-width="2.75"/>
<circle cx="1713.22" cy="263.54" r="8.8" fill="none" stroke="#F0706A" stroke-width="2.75"/>
<circle cx="1748.00" cy="265.37" r="8.8" fill="none" stroke="#F0706A" stroke-width="2.75"/>
<path d="M1052.30,579.70C1063.89,559.57 1075.49,539.44 1087.09,523.88C1098.68,508.32 1110.27,497.34 1121.87,486.59C1133.46,475.84 1145.06,465.31 1156.65,454.10C1168.25,442.90 1179.85,431.00 1191.44,420.70C1203.04,410.41 1214.63,401.72 1226.23,394.17C1237.82,386.62 1249.41,380.21 1261.01,372.74C1272.61,365.27 1284.20,356.72 1295.80,348.64C1307.39,340.56 1318.98,332.93 1330.58,327.82C1342.17,322.71 1353.77,320.12 1365.37,316.92C1376.96,313.72 1388.56,309.90 1400.15,306.32C1411.75,302.73 1423.34,299.38 1434.93,295.80C1446.53,292.21 1458.12,288.40 1469.72,286.11C1481.31,283.82 1492.91,283.06 1504.51,282.83C1516.10,282.60 1527.69,282.91 1539.29,282.91C1550.88,282.91 1562.48,282.60 1574.08,282.83C1585.67,283.06 1597.27,283.82 1608.86,284.36C1620.45,284.89 1632.05,285.20 1643.65,285.88C1655.24,286.57 1666.84,287.64 1678.43,288.32C1690.03,289.01 1701.62,289.31 1713.22,290.00C1724.81,290.69 1736.40,291.75 1748.00,292.82" fill="none" stroke="#04B830" stroke-width="2.6" stroke-linecap="round" stroke-linejoin="round" stroke-dasharray="4.1,14.3"/>
<polygon points="1052.30,567.30 1063.04,585.90 1041.56,585.90" fill="none" stroke="#04B830" stroke-width="2.75" stroke-linejoin="round"/>
<polygon points="1087.09,506.90 1097.82,525.50 1076.35,525.50" fill="none" stroke="#04B830" stroke-width="2.75" stroke-linejoin="round"/>
<polygon points="1121.87,473.96 1132.61,492.56 1111.13,492.56" fill="none" stroke="#04B830" stroke-width="2.75" stroke-linejoin="round"/>
<polygon points="1156.65,442.39 1167.39,460.99 1145.92,460.99" fill="none" stroke="#04B830" stroke-width="2.75" stroke-linejoin="round"/>
<polygon points="1191.44,406.70 1202.18,425.30 1180.70,425.30" fill="none" stroke="#04B830" stroke-width="2.75" stroke-linejoin="round"/>
<polygon points="1226.22,380.62 1236.96,399.22 1215.49,399.22" fill="none" stroke="#04B830" stroke-width="2.75" stroke-linejoin="round"/>
<polygon points="1261.01,361.41 1271.75,380.01 1250.27,380.01" fill="none" stroke="#04B830" stroke-width="2.75" stroke-linejoin="round"/>
<polygon points="1295.80,335.78 1306.53,354.38 1285.06,354.38" fill="none" stroke="#04B830" stroke-width="2.75" stroke-linejoin="round"/>
<polygon points="1330.58,312.91 1341.32,331.51 1319.84,331.51" fill="none" stroke="#04B830" stroke-width="2.75" stroke-linejoin="round"/>
<polygon points="1365.37,305.13 1376.10,323.73 1354.63,323.73" fill="none" stroke="#04B830" stroke-width="2.75" stroke-linejoin="round"/>
<polygon points="1400.15,293.69 1410.89,312.29 1389.41,312.29" fill="none" stroke="#04B830" stroke-width="2.75" stroke-linejoin="round"/>
<polygon points="1434.93,283.62 1445.67,302.22 1424.20,302.22" fill="none" stroke="#04B830" stroke-width="2.75" stroke-linejoin="round"/>
<polygon points="1469.72,272.19 1480.46,290.79 1458.98,290.79" fill="none" stroke="#04B830" stroke-width="2.75" stroke-linejoin="round"/>
<polygon points="1504.51,269.90 1515.24,288.50 1493.77,288.50" fill="none" stroke="#04B830" stroke-width="2.75" stroke-linejoin="round"/>
<polygon points="1539.29,270.81 1550.03,289.41 1528.55,289.41" fill="none" stroke="#04B830" stroke-width="2.75" stroke-linejoin="round"/>
<polygon points="1574.08,269.90 1584.81,288.50 1563.34,288.50" fill="none" stroke="#04B830" stroke-width="2.75" stroke-linejoin="round"/>
<polygon points="1608.86,272.19 1619.60,290.79 1598.12,290.79" fill="none" stroke="#04B830" stroke-width="2.75" stroke-linejoin="round"/>
<polygon points="1643.64,273.10 1654.38,291.70 1632.91,291.70" fill="none" stroke="#04B830" stroke-width="2.75" stroke-linejoin="round"/>
<polygon points="1678.43,276.30 1689.17,294.90 1667.69,294.90" fill="none" stroke="#04B830" stroke-width="2.75" stroke-linejoin="round"/>
<polygon points="1713.22,277.22 1723.95,295.82 1702.48,295.82" fill="none" stroke="#04B830" stroke-width="2.75" stroke-linejoin="round"/>
<polygon points="1748.00,280.42 1758.74,299.02 1737.26,299.02" fill="none" stroke="#04B830" stroke-width="2.75" stroke-linejoin="round"/>
<path d="M1052.30,579.70C1063.89,569.94 1075.49,560.18 1087.09,552.55C1098.68,544.93 1110.27,539.44 1121.87,532.04C1133.46,524.64 1145.06,515.34 1156.65,507.48C1168.25,499.63 1179.85,493.22 1191.44,486.51C1203.04,479.80 1214.63,472.79 1226.23,466.76C1237.82,460.74 1249.41,455.71 1261.01,449.68C1272.61,443.66 1284.20,436.64 1295.80,431.53C1307.39,426.42 1318.98,423.22 1330.58,417.73C1342.17,412.24 1353.77,404.46 1365.37,396.38C1376.96,388.30 1388.56,379.91 1400.15,373.58C1411.75,367.25 1423.34,362.98 1434.93,360.00C1446.53,357.03 1458.12,355.35 1469.72,353.67C1481.31,352.00 1492.91,350.32 1504.51,349.25C1516.10,348.18 1527.69,347.73 1539.29,347.50C1550.88,347.27 1562.48,347.27 1574.08,347.35C1585.67,347.42 1597.27,347.57 1608.86,348.26C1620.45,348.95 1632.05,350.17 1643.65,351.31C1655.24,352.45 1666.84,353.52 1678.43,354.06C1690.03,354.59 1701.62,354.59 1713.22,354.59C1724.81,354.59 1736.40,354.59 1748.00,354.59" fill="none" stroke="#B57FDD" stroke-width="2.6" stroke-linecap="round" stroke-linejoin="round" stroke-dasharray="16.9,9.1,3.3,9.4"/>
<polygon points="1052.30,592.10 1063.04,573.50 1041.56,573.50" fill="none" stroke="#B57FDD" stroke-width="2.75" stroke-linejoin="round"/>
<polygon points="1087.09,562.82 1097.82,544.22 1076.35,544.22" fill="none" stroke="#B57FDD" stroke-width="2.75" stroke-linejoin="round"/>
<polygon points="1121.87,546.35 1132.61,527.75 1111.13,527.75" fill="none" stroke="#B57FDD" stroke-width="2.75" stroke-linejoin="round"/>
<polygon points="1156.65,518.44 1167.39,499.84 1145.92,499.84" fill="none" stroke="#B57FDD" stroke-width="2.75" stroke-linejoin="round"/>
<polygon points="1191.44,499.22 1202.18,480.62 1180.70,480.62" fill="none" stroke="#B57FDD" stroke-width="2.75" stroke-linejoin="round"/>
<polygon points="1226.22,478.17 1236.96,459.57 1215.49,459.57" fill="none" stroke="#B57FDD" stroke-width="2.75" stroke-linejoin="round"/>
<polygon points="1261.01,463.07 1271.75,444.47 1250.27,444.47" fill="none" stroke="#B57FDD" stroke-width="2.75" stroke-linejoin="round"/>
<polygon points="1295.80,442.03 1306.53,423.43 1285.06,423.43" fill="none" stroke="#B57FDD" stroke-width="2.75" stroke-linejoin="round"/>
<polygon points="1330.58,432.42 1341.32,413.82 1319.84,413.82" fill="none" stroke="#B57FDD" stroke-width="2.75" stroke-linejoin="round"/>
<polygon points="1365.37,409.08 1376.10,390.48 1354.63,390.48" fill="none" stroke="#B57FDD" stroke-width="2.75" stroke-linejoin="round"/>
<polygon points="1400.15,383.92 1410.89,365.32 1389.41,365.32" fill="none" stroke="#B57FDD" stroke-width="2.75" stroke-linejoin="round"/>
<polygon points="1434.93,371.11 1445.67,352.51 1424.20,352.51" fill="none" stroke="#B57FDD" stroke-width="2.75" stroke-linejoin="round"/>
<polygon points="1469.72,366.07 1480.46,347.47 1458.98,347.47" fill="none" stroke="#B57FDD" stroke-width="2.75" stroke-linejoin="round"/>
<polygon points="1504.51,361.04 1515.24,342.44 1493.77,342.44" fill="none" stroke="#B57FDD" stroke-width="2.75" stroke-linejoin="round"/>
<polygon points="1539.29,359.67 1550.03,341.07 1528.55,341.07" fill="none" stroke="#B57FDD" stroke-width="2.75" stroke-linejoin="round"/>
<polygon points="1574.08,359.67 1584.81,341.07 1563.34,341.07" fill="none" stroke="#B57FDD" stroke-width="2.75" stroke-linejoin="round"/>
<polygon points="1608.86,360.13 1619.60,341.53 1598.12,341.53" fill="none" stroke="#B57FDD" stroke-width="2.75" stroke-linejoin="round"/>
<polygon points="1643.64,363.79 1654.38,345.19 1632.91,345.19" fill="none" stroke="#B57FDD" stroke-width="2.75" stroke-linejoin="round"/>
<polygon points="1678.43,366.99 1689.17,348.39 1667.69,348.39" fill="none" stroke="#B57FDD" stroke-width="2.75" stroke-linejoin="round"/>
<polygon points="1713.22,366.99 1723.95,348.39 1702.48,348.39" fill="none" stroke="#B57FDD" stroke-width="2.75" stroke-linejoin="round"/>
<polygon points="1748.00,366.99 1758.74,348.39 1737.26,348.39" fill="none" stroke="#B57FDD" stroke-width="2.75" stroke-linejoin="round"/>
<path d="M1052.30,579.70C1063.89,567.19 1075.49,554.69 1087.09,544.39C1098.68,534.10 1110.27,526.02 1121.87,518.77C1133.46,511.53 1145.06,505.12 1156.65,498.94C1168.25,492.77 1179.85,486.82 1191.44,480.79C1203.04,474.77 1214.63,468.67 1226.23,463.10C1237.82,457.54 1249.41,452.50 1261.01,447.93C1272.61,443.35 1284.20,439.23 1295.80,435.04C1307.39,430.85 1318.98,426.58 1330.58,422.15C1342.17,417.73 1353.77,413.15 1365.37,407.89C1376.96,402.63 1388.56,396.68 1400.15,391.96C1411.75,387.23 1423.34,383.72 1434.93,380.97C1446.53,378.23 1458.12,376.25 1469.72,373.88C1481.31,371.52 1492.91,368.77 1504.51,366.94C1516.10,365.11 1527.69,364.20 1539.29,363.51C1550.88,362.83 1562.48,362.37 1574.08,362.14C1585.67,361.91 1597.27,361.91 1608.86,361.76C1620.45,361.61 1632.05,361.30 1643.65,361.30C1655.24,361.30 1666.84,361.61 1678.43,361.99C1690.03,362.37 1701.62,362.83 1713.22,363.51C1724.81,364.20 1736.40,365.11 1748.00,366.03" fill="none" stroke="#D7DA0E" stroke-width="2.6" stroke-linecap="round" stroke-linejoin="round" stroke-dasharray="13.1,8.4,4.0,8.4,4.0,8.4"/>
<polygon points="1052.30,568.30 1063.70,579.70 1052.30,591.10 1040.90,579.70" fill="none" stroke="#D7DA0E" stroke-width="2.75" stroke-linejoin="round"/>
<polygon points="1087.09,530.78 1098.49,542.18 1087.09,553.58 1075.68,542.18" fill="none" stroke="#D7DA0E" stroke-width="2.75" stroke-linejoin="round"/>
<polygon points="1121.87,506.53 1133.27,517.93 1121.87,529.33 1110.47,517.93" fill="none" stroke="#D7DA0E" stroke-width="2.75" stroke-linejoin="round"/>
<polygon points="1156.65,487.32 1168.06,498.72 1156.65,510.12 1145.25,498.72" fill="none" stroke="#D7DA0E" stroke-width="2.75" stroke-linejoin="round"/>
<polygon points="1191.44,469.47 1202.84,480.87 1191.44,492.27 1180.04,480.87" fill="none" stroke="#D7DA0E" stroke-width="2.75" stroke-linejoin="round"/>
<polygon points="1226.22,451.17 1237.62,462.57 1226.22,473.97 1214.82,462.57" fill="none" stroke="#D7DA0E" stroke-width="2.75" stroke-linejoin="round"/>
<polygon points="1261.01,436.07 1272.41,447.47 1261.01,458.87 1249.61,447.47" fill="none" stroke="#D7DA0E" stroke-width="2.75" stroke-linejoin="round"/>
<polygon points="1295.80,423.72 1307.20,435.12 1295.80,446.52 1284.39,435.12" fill="none" stroke="#D7DA0E" stroke-width="2.75" stroke-linejoin="round"/>
<polygon points="1330.58,410.91 1341.98,422.31 1330.58,433.71 1319.18,422.31" fill="none" stroke="#D7DA0E" stroke-width="2.75" stroke-linejoin="round"/>
<polygon points="1365.37,397.18 1376.77,408.58 1365.37,419.98 1353.96,408.58" fill="none" stroke="#D7DA0E" stroke-width="2.75" stroke-linejoin="round"/>
<polygon points="1400.15,379.34 1411.55,390.74 1400.15,402.14 1388.75,390.74" fill="none" stroke="#D7DA0E" stroke-width="2.75" stroke-linejoin="round"/>
<polygon points="1434.93,368.81 1446.34,380.21 1434.93,391.61 1423.53,380.21" fill="none" stroke="#D7DA0E" stroke-width="2.75" stroke-linejoin="round"/>
<polygon points="1469.72,362.86 1481.12,374.26 1469.72,385.66 1458.32,374.26" fill="none" stroke="#D7DA0E" stroke-width="2.75" stroke-linejoin="round"/>
<polygon points="1504.51,354.63 1515.91,366.03 1504.51,377.43 1493.11,366.03" fill="none" stroke="#D7DA0E" stroke-width="2.75" stroke-linejoin="round"/>
<polygon points="1539.29,351.88 1550.69,363.28 1539.29,374.68 1527.89,363.28" fill="none" stroke="#D7DA0E" stroke-width="2.75" stroke-linejoin="round"/>
<polygon points="1574.08,350.51 1585.48,361.91 1574.08,373.31 1562.67,361.91" fill="none" stroke="#D7DA0E" stroke-width="2.75" stroke-linejoin="round"/>
<polygon points="1608.86,350.51 1620.26,361.91 1608.86,373.31 1597.46,361.91" fill="none" stroke="#D7DA0E" stroke-width="2.75" stroke-linejoin="round"/>
<polygon points="1643.64,349.60 1655.05,361.00 1643.64,372.40 1632.24,361.00" fill="none" stroke="#D7DA0E" stroke-width="2.75" stroke-linejoin="round"/>
<polygon points="1678.43,350.51 1689.83,361.91 1678.43,373.31 1667.03,361.91" fill="none" stroke="#D7DA0E" stroke-width="2.75" stroke-linejoin="round"/>
<polygon points="1713.22,351.88 1724.62,363.28 1713.22,374.68 1701.82,363.28" fill="none" stroke="#D7DA0E" stroke-width="2.75" stroke-linejoin="round"/>
<polygon points="1748.00,354.63 1759.40,366.03 1748.00,377.43 1736.60,366.03" fill="none" stroke="#D7DA0E" stroke-width="2.75" stroke-linejoin="round"/>
<path d="M1052.30,579.70C1063.89,567.96 1075.49,556.21 1087.09,547.21C1098.68,538.22 1110.27,531.96 1121.87,525.25C1133.46,518.54 1145.06,511.37 1156.65,504.36C1168.25,497.34 1179.85,490.48 1191.44,484.30C1203.04,478.13 1214.63,472.64 1226.23,467.45C1237.82,462.26 1249.41,457.38 1261.01,452.81C1272.61,448.23 1284.20,443.96 1295.80,439.69C1307.39,435.42 1318.98,431.15 1330.58,426.42C1342.17,421.70 1353.77,416.51 1365.37,411.55C1376.96,406.60 1388.56,401.87 1400.15,398.36C1411.75,394.85 1423.34,392.57 1434.93,390.58C1446.53,388.60 1458.12,386.92 1469.72,384.94C1481.31,382.96 1492.91,380.67 1504.51,378.92C1516.10,377.16 1527.69,375.94 1539.29,374.87C1550.88,373.81 1562.48,372.89 1574.08,372.28C1585.67,371.67 1597.27,371.37 1608.86,371.59C1620.45,371.82 1632.05,372.59 1643.65,373.20C1655.24,373.81 1666.84,374.26 1678.43,374.87C1690.03,375.48 1701.62,376.25 1713.22,377.01C1724.81,377.77 1736.40,378.53 1748.00,379.30" fill="none" stroke="#1FCDB9" stroke-width="2.6" stroke-linecap="round" stroke-linejoin="round" stroke-dasharray="6.6,7.4"/>
<polygon points="1039.90,579.70 1058.50,568.96 1058.50,590.44" fill="none" stroke="#1FCDB9" stroke-width="2.75" stroke-linejoin="round"/>
<polygon points="1074.68,544.47 1093.29,533.73 1093.29,555.21" fill="none" stroke="#1FCDB9" stroke-width="2.75" stroke-linejoin="round"/>
<polygon points="1109.47,525.71 1128.07,514.97 1128.07,536.45" fill="none" stroke="#1FCDB9" stroke-width="2.75" stroke-linejoin="round"/>
<polygon points="1144.25,504.21 1162.86,493.47 1162.86,514.94" fill="none" stroke="#1FCDB9" stroke-width="2.75" stroke-linejoin="round"/>
<polygon points="1179.04,483.62 1197.64,472.88 1197.64,494.35" fill="none" stroke="#1FCDB9" stroke-width="2.75" stroke-linejoin="round"/>
<polygon points="1213.82,467.14 1232.42,456.41 1232.42,477.88" fill="none" stroke="#1FCDB9" stroke-width="2.75" stroke-linejoin="round"/>
<polygon points="1248.61,452.50 1267.21,441.77 1267.21,463.24" fill="none" stroke="#1FCDB9" stroke-width="2.75" stroke-linejoin="round"/>
<polygon points="1283.39,439.69 1302.00,428.95 1302.00,450.43" fill="none" stroke="#1FCDB9" stroke-width="2.75" stroke-linejoin="round"/>
<polygon points="1318.18,426.88 1336.78,416.14 1336.78,437.62" fill="none" stroke="#1FCDB9" stroke-width="2.75" stroke-linejoin="round"/>
<polygon points="1352.96,411.32 1371.57,400.59 1371.57,422.06" fill="none" stroke="#1FCDB9" stroke-width="2.75" stroke-linejoin="round"/>
<polygon points="1387.75,397.14 1406.35,386.40 1406.35,407.88" fill="none" stroke="#1FCDB9" stroke-width="2.75" stroke-linejoin="round"/>
<polygon points="1422.53,390.28 1441.13,379.54 1441.13,401.02" fill="none" stroke="#1FCDB9" stroke-width="2.75" stroke-linejoin="round"/>
<polygon points="1457.32,385.24 1475.92,374.51 1475.92,395.98" fill="none" stroke="#1FCDB9" stroke-width="2.75" stroke-linejoin="round"/>
<polygon points="1492.11,378.38 1510.71,367.64 1510.71,389.12" fill="none" stroke="#1FCDB9" stroke-width="2.75" stroke-linejoin="round"/>
<polygon points="1526.89,374.72 1545.49,363.98 1545.49,385.46" fill="none" stroke="#1FCDB9" stroke-width="2.75" stroke-linejoin="round"/>
<polygon points="1561.67,371.98 1580.28,361.24 1580.28,382.71" fill="none" stroke="#1FCDB9" stroke-width="2.75" stroke-linejoin="round"/>
<polygon points="1596.46,371.06 1615.06,360.32 1615.06,381.80" fill="none" stroke="#1FCDB9" stroke-width="2.75" stroke-linejoin="round"/>
<polygon points="1631.24,373.35 1649.85,362.61 1649.85,384.09" fill="none" stroke="#1FCDB9" stroke-width="2.75" stroke-linejoin="round"/>
<polygon points="1666.03,374.72 1684.63,363.98 1684.63,385.46" fill="none" stroke="#1FCDB9" stroke-width="2.75" stroke-linejoin="round"/>
<polygon points="1700.82,377.01 1719.42,366.27 1719.42,387.75" fill="none" stroke="#1FCDB9" stroke-width="2.75" stroke-linejoin="round"/>
<polygon points="1735.60,379.30 1754.20,368.56 1754.20,390.04" fill="none" stroke="#1FCDB9" stroke-width="2.75" stroke-linejoin="round"/>
<path d="M1052.30,579.70C1063.89,569.18 1075.49,558.65 1087.09,550.42C1098.68,542.18 1110.27,536.23 1121.87,530.21C1133.46,524.18 1145.06,518.08 1156.65,512.06C1168.25,506.04 1179.85,500.09 1191.44,494.60C1203.04,489.11 1214.63,484.07 1226.23,478.96C1237.82,473.86 1249.41,468.67 1261.01,464.48C1272.61,460.28 1284.20,457.08 1295.80,453.27C1307.39,449.45 1318.98,445.03 1330.58,440.53C1342.17,436.03 1353.77,431.46 1365.37,427.41C1376.96,423.37 1388.56,419.87 1400.15,416.28C1411.75,412.70 1423.34,409.04 1434.93,406.37C1446.53,403.70 1458.12,402.02 1469.72,400.80C1481.31,399.58 1492.91,398.82 1504.51,397.06C1516.10,395.31 1527.69,392.57 1539.29,390.89C1550.88,389.21 1562.48,388.60 1574.08,388.22C1585.67,387.84 1597.27,387.69 1608.86,387.84C1620.45,387.99 1632.05,388.45 1643.65,388.98C1655.24,389.52 1666.84,390.13 1678.43,390.81C1690.03,391.50 1701.62,392.26 1713.22,393.02C1724.81,393.79 1736.40,394.55 1748.00,395.31" fill="none" stroke="#F26AF2" stroke-width="2.6" stroke-linecap="round" stroke-linejoin="round" stroke-dasharray="1.9,4.9"/>
<polygon points="1064.70,579.70 1046.10,568.96 1046.10,590.44" fill="none" stroke="#F26AF2" stroke-width="2.75" stroke-linejoin="round"/>
<polygon points="1099.49,548.13 1080.88,537.39 1080.88,558.87" fill="none" stroke="#F26AF2" stroke-width="2.75" stroke-linejoin="round"/>
<polygon points="1134.27,530.29 1115.67,519.55 1115.67,541.02" fill="none" stroke="#F26AF2" stroke-width="2.75" stroke-linejoin="round"/>
<polygon points="1169.06,511.98 1150.45,501.25 1150.45,522.72" fill="none" stroke="#F26AF2" stroke-width="2.75" stroke-linejoin="round"/>
<polygon points="1203.84,494.14 1185.24,483.40 1185.24,504.88" fill="none" stroke="#F26AF2" stroke-width="2.75" stroke-linejoin="round"/>
<polygon points="1238.62,479.04 1220.02,468.30 1220.02,489.78" fill="none" stroke="#F26AF2" stroke-width="2.75" stroke-linejoin="round"/>
<polygon points="1273.41,463.48 1254.81,452.75 1254.81,474.22" fill="none" stroke="#F26AF2" stroke-width="2.75" stroke-linejoin="round"/>
<polygon points="1308.20,453.88 1289.60,443.14 1289.60,464.61" fill="none" stroke="#F26AF2" stroke-width="2.75" stroke-linejoin="round"/>
<polygon points="1342.98,440.61 1324.38,429.87 1324.38,451.35" fill="none" stroke="#F26AF2" stroke-width="2.75" stroke-linejoin="round"/>
<polygon points="1377.77,426.88 1359.16,416.14 1359.16,437.62" fill="none" stroke="#F26AF2" stroke-width="2.75" stroke-linejoin="round"/>
<polygon points="1412.55,416.36 1393.95,405.62 1393.95,427.10" fill="none" stroke="#F26AF2" stroke-width="2.75" stroke-linejoin="round"/>
<polygon points="1447.34,405.38 1428.73,394.64 1428.73,416.12" fill="none" stroke="#F26AF2" stroke-width="2.75" stroke-linejoin="round"/>
<polygon points="1482.12,400.34 1463.52,389.61 1463.52,411.08" fill="none" stroke="#F26AF2" stroke-width="2.75" stroke-linejoin="round"/>
<polygon points="1516.91,398.06 1498.31,387.32 1498.31,408.79" fill="none" stroke="#F26AF2" stroke-width="2.75" stroke-linejoin="round"/>
<polygon points="1551.69,389.82 1533.09,379.08 1533.09,400.56" fill="none" stroke="#F26AF2" stroke-width="2.75" stroke-linejoin="round"/>
<polygon points="1586.48,387.99 1567.88,377.25 1567.88,398.73" fill="none" stroke="#F26AF2" stroke-width="2.75" stroke-linejoin="round"/>
<polygon points="1621.26,387.53 1602.66,376.79 1602.66,398.27" fill="none" stroke="#F26AF2" stroke-width="2.75" stroke-linejoin="round"/>
<polygon points="1656.05,388.91 1637.44,378.17 1637.44,399.64" fill="none" stroke="#F26AF2" stroke-width="2.75" stroke-linejoin="round"/>
<polygon points="1690.83,390.74 1672.23,380.00 1672.23,401.47" fill="none" stroke="#F26AF2" stroke-width="2.75" stroke-linejoin="round"/>
<polygon points="1725.62,393.02 1707.02,382.28 1707.02,403.76" fill="none" stroke="#F26AF2" stroke-width="2.75" stroke-linejoin="round"/>
<polygon points="1760.40,395.31 1741.80,384.57 1741.80,406.05" fill="none" stroke="#F26AF2" stroke-width="2.75" stroke-linejoin="round"/>
<g class="tk"><text transform="translate(1052.30,624.20) scale(1,1.065)" text-anchor="middle">0</text><text transform="translate(1226.22,624.20) scale(1,1.065)" text-anchor="middle">1</text><text transform="translate(1400.15,624.20) scale(1,1.065)" text-anchor="middle">2</text><text transform="translate(1574.08,624.20) scale(1,1.065)" text-anchor="middle">3</text><text transform="translate(1748.00,624.20) scale(1,1.065)" text-anchor="middle">4</text><text transform="translate(1035.70,590.70) scale(1,1.065)" text-anchor="end">0</text><text transform="translate(1035.70,453.44) scale(1,1.065)" text-anchor="end">30</text><text transform="translate(1035.70,316.18) scale(1,1.065)" text-anchor="end">60</text><text transform="translate(1035.70,178.91) scale(1,1.065)" text-anchor="end">90</text><text transform="translate(1035.70,41.65) scale(1,1.065)" text-anchor="end">120</text></g>
<text class="tt" x="1400.15" y="678.90" text-anchor="middle">Shear displacement, <tspan font-style="italic">ΔL</tspan> (mm)</text>
<text class="tt" transform="translate(954.60,305.18) rotate(-90)" text-anchor="middle">Shear stress, <tspan font-style="italic" dx="3">τ</tspan><tspan dx="-1.8"> (kPa)</tspan></text>
<text class="pl" x="907.90" y="41.30">(b)</text>
<path d="M1075.80,68.30H1143.90" fill="none" stroke="#6396F6" stroke-width="2.6" stroke-linecap="round" stroke-linejoin="round"/>
<rect x="1102.28" y="60.58" width="15.44" height="15.44" fill="none" stroke="#6396F6" stroke-width="2.75"/>
<text class="lg" x="1151.20" y="79.00"><tspan font-style="italic">N</tspan><tspan dx="-2.4"> =0</tspan></text>
<path d="M1075.80,106.05H1143.90" fill="none" stroke="#F0706A" stroke-width="2.6" stroke-linecap="round" stroke-linejoin="round" stroke-dasharray="14.1,16.9"/>
<circle cx="1110.00" cy="106.05" r="8.8" fill="none" stroke="#F0706A" stroke-width="2.75"/>
<text class="lg" x="1151.20" y="116.75"><tspan font-style="italic">N</tspan><tspan dx="-2.4"> =1</tspan></text>
<path d="M1075.80,143.80H1143.90" fill="none" stroke="#04B830" stroke-width="2.6" stroke-linecap="round" stroke-linejoin="round" stroke-dasharray="4.1,14.3"/>
<polygon points="1110.00,131.40 1120.74,150.00 1099.26,150.00" fill="none" stroke="#04B830" stroke-width="2.75" stroke-linejoin="round"/>
<text class="lg" x="1151.20" y="154.50"><tspan font-style="italic">N</tspan><tspan dx="-2.4"> =2</tspan></text>
<path d="M1075.80,181.55H1143.90" fill="none" stroke="#B57FDD" stroke-width="2.6" stroke-linecap="round" stroke-linejoin="round" stroke-dasharray="16.9,9.1,3.3,9.4"/>
<polygon points="1110.00,193.95 1120.74,175.35 1099.26,175.35" fill="none" stroke="#B57FDD" stroke-width="2.75" stroke-linejoin="round"/>
<text class="lg" x="1151.20" y="192.25"><tspan font-style="italic">N</tspan><tspan dx="-2.4"> =3</tspan></text>
<path d="M1075.80,219.30H1143.90" fill="none" stroke="#D7DA0E" stroke-width="2.6" stroke-linecap="round" stroke-linejoin="round" stroke-dasharray="13.1,8.4,4.0,8.4,4.0,8.4"/>
<polygon points="1110.00,207.90 1121.40,219.30 1110.00,230.70 1098.60,219.30" fill="none" stroke="#D7DA0E" stroke-width="2.75" stroke-linejoin="round"/>
<text class="lg" x="1151.20" y="230.00"><tspan font-style="italic">N</tspan><tspan dx="-2.4"> =4</tspan></text>
<path d="M1075.80,257.05H1143.90" fill="none" stroke="#1FCDB9" stroke-width="2.6" stroke-linecap="round" stroke-linejoin="round" stroke-dasharray="6.6,7.4"/>
<polygon points="1097.60,257.05 1116.20,246.31 1116.20,267.79" fill="none" stroke="#1FCDB9" stroke-width="2.75" stroke-linejoin="round"/>
<text class="lg" x="1151.20" y="267.75"><tspan font-style="italic">N</tspan><tspan dx="-2.4"> =5</tspan></text>
<path d="M1075.80,294.80H1143.90" fill="none" stroke="#F26AF2" stroke-width="2.6" stroke-linecap="round" stroke-linejoin="round" stroke-dasharray="1.9,4.9"/>
<polygon points="1122.40,294.80 1103.80,284.06 1103.80,305.54" fill="none" stroke="#F26AF2" stroke-width="2.75" stroke-linejoin="round"/>
<text class="lg" x="1151.20" y="305.50"><tspan font-style="italic">N</tspan><tspan dx="-2.4"> =10</tspan></text>
<text class="pr" x="1075.40" y="343.20">50 kPa</text>
<path d="M229.50,1302.30V1294.80M229.50,753.40V760.90M316.50,1302.30V1287.30M316.50,753.40V768.40M403.50,1302.30V1294.80M403.50,753.40V760.90M490.50,1302.30V1287.30M490.50,753.40V768.40M577.50,1302.30V1294.80M577.50,753.40V760.90M664.50,1302.30V1287.30M664.50,753.40V768.40M751.50,1302.30V1294.80M751.50,753.40V760.90M142.50,1233.69H150.00M838.50,1233.69H831.00M142.50,1165.08H157.50M838.50,1165.08H823.50M142.50,1096.46H150.00M838.50,1096.46H831.00M142.50,1027.85H157.50M838.50,1027.85H823.50M142.50,959.24H150.00M838.50,959.24H831.00M142.50,890.62H157.50M838.50,890.62H823.50M142.50,822.01H150.00M838.50,822.01H831.00" stroke="#000" stroke-width="2.8" fill="none"/>
<rect x="142.50" y="753.40" width="696.00" height="548.90" fill="none" stroke="#000" stroke-width="2.8" stroke-linejoin="miter"/>
<path d="M142.50,1302.30C154.10,1298.53 165.70,1294.75 177.30,1286.98C188.90,1279.20 200.50,1267.42 212.10,1247.18C223.70,1226.94 235.30,1198.24 246.90,1172.28C258.50,1146.32 270.10,1123.11 281.70,1100.29C293.30,1077.48 304.90,1055.07 316.50,1034.77C328.10,1014.47 339.70,996.29 351.30,979.76C362.90,963.24 374.50,948.37 386.10,935.17C397.70,921.96 409.30,910.41 420.90,899.54C432.50,888.68 444.10,878.50 455.70,871.13C467.30,863.75 478.90,859.18 490.50,855.86C502.10,852.55 513.70,850.49 525.30,849.91C536.90,849.34 548.50,850.26 560.10,851.29C571.70,852.32 583.30,853.46 594.90,854.83C606.50,856.20 618.10,857.81 629.70,858.89C641.30,859.98 652.90,860.55 664.50,861.41C676.10,862.27 687.70,863.41 699.30,864.61C710.90,865.81 722.50,867.07 734.10,867.98C745.70,868.90 757.30,869.47 768.90,870.27C780.50,871.07 792.10,872.10 803.70,872.67C815.30,873.24 826.90,873.36 838.50,873.47" fill="none" stroke="#6396F6" stroke-width="2.6" stroke-linecap="round" stroke-linejoin="round"/>
<rect x="134.78" y="1294.58" width="15.44" height="15.44" fill="none" stroke="#6396F6" stroke-width="2.75"/>
<rect x="169.58" y="1283.26" width="15.44" height="15.44" fill="none" stroke="#6396F6" stroke-width="2.75"/>
<rect x="204.38" y="1247.92" width="15.44" height="15.44" fill="none" stroke="#6396F6" stroke-width="2.75"/>
<rect x="239.18" y="1161.81" width="15.44" height="15.44" fill="none" stroke="#6396F6" stroke-width="2.75"/>
<rect x="273.98" y="1092.17" width="15.44" height="15.44" fill="none" stroke="#6396F6" stroke-width="2.75"/>
<rect x="308.78" y="1024.93" width="15.44" height="15.44" fill="none" stroke="#6396F6" stroke-width="2.75"/>
<rect x="343.58" y="970.39" width="15.44" height="15.44" fill="none" stroke="#6396F6" stroke-width="2.75"/>
<rect x="378.38" y="925.79" width="15.44" height="15.44" fill="none" stroke="#6396F6" stroke-width="2.75"/>
<rect x="413.18" y="891.14" width="15.44" height="15.44" fill="none" stroke="#6396F6" stroke-width="2.75"/>
<rect x="447.98" y="860.61" width="15.44" height="15.44" fill="none" stroke="#6396F6" stroke-width="2.75"/>
<rect x="482.78" y="846.88" width="15.44" height="15.44" fill="none" stroke="#6396F6" stroke-width="2.75"/>
<rect x="517.58" y="840.71" width="15.44" height="15.44" fill="none" stroke="#6396F6" stroke-width="2.75"/>
<rect x="552.38" y="843.45" width="15.44" height="15.44" fill="none" stroke="#6396F6" stroke-width="2.75"/>
<rect x="587.18" y="846.88" width="15.44" height="15.44" fill="none" stroke="#6396F6" stroke-width="2.75"/>
<rect x="621.98" y="851.69" width="15.44" height="15.44" fill="none" stroke="#6396F6" stroke-width="2.75"/>
<rect x="656.78" y="853.40" width="15.44" height="15.44" fill="none" stroke="#6396F6" stroke-width="2.75"/>
<rect x="691.58" y="856.83" width="15.44" height="15.44" fill="none" stroke="#6396F6" stroke-width="2.75"/>
<rect x="726.38" y="860.61" width="15.44" height="15.44" fill="none" stroke="#6396F6" stroke-width="2.75"/>
<rect x="761.18" y="862.32" width="15.44" height="15.44" fill="none" stroke="#6396F6" stroke-width="2.75"/>
<rect x="795.98" y="865.41" width="15.44" height="15.44" fill="none" stroke="#6396F6" stroke-width="2.75"/>
<rect x="830.78" y="865.75" width="15.44" height="15.44" fill="none" stroke="#6396F6" stroke-width="2.75"/>
<path d="M142.50,1302.30C154.10,1293.61 165.70,1284.92 177.30,1270.45C188.90,1255.99 200.50,1235.75 212.10,1219.68C223.70,1203.61 235.30,1191.72 246.90,1180.74C258.50,1169.76 270.10,1159.70 281.70,1151.01C293.30,1142.32 304.90,1135.00 316.50,1128.25C328.10,1121.51 339.70,1115.33 351.30,1109.56C362.90,1103.78 374.50,1098.41 386.10,1092.57C397.70,1086.74 409.30,1080.45 420.90,1074.39C432.50,1068.33 444.10,1062.50 455.70,1055.98C467.30,1049.46 478.90,1042.26 490.50,1036.31C502.10,1030.37 513.70,1025.68 525.30,1020.36C536.90,1015.04 548.50,1009.10 560.10,1004.52C571.70,999.95 583.30,996.75 594.90,995.03C606.50,993.32 618.10,993.09 629.70,993.26C641.30,993.43 652.90,994.00 664.50,994.86C676.10,995.72 687.70,996.86 699.30,997.43C710.90,998.00 722.50,998.00 734.10,998.40C745.70,998.80 757.30,999.60 768.90,1000.98C780.50,1002.35 792.10,1004.29 803.70,1005.32C815.30,1006.35 826.90,1006.47 838.50,1006.58" fill="none" stroke="#F0706A" stroke-width="2.6" stroke-linecap="round" stroke-linejoin="round" stroke-dasharray="14.1,16.9"/>
<circle cx="142.50" cy="1302.30" r="8.8" fill="none" stroke="#F0706A" stroke-width="2.75"/>
<circle cx="177.30" cy="1276.23" r="8.8" fill="none" stroke="#F0706A" stroke-width="2.75"/>
<circle cx="212.10" cy="1215.51" r="8.8" fill="none" stroke="#F0706A" stroke-width="2.75"/>
<circle cx="246.90" cy="1179.83" r="8.8" fill="none" stroke="#F0706A" stroke-width="2.75"/>
<circle cx="281.70" cy="1149.64" r="8.8" fill="none" stroke="#F0706A" stroke-width="2.75"/>
<circle cx="316.50" cy="1127.68" r="8.8" fill="none" stroke="#F0706A" stroke-width="2.75"/>
<circle cx="351.30" cy="1109.16" r="8.8" fill="none" stroke="#F0706A" stroke-width="2.75"/>
<circle cx="386.10" cy="1093.03" r="8.8" fill="none" stroke="#F0706A" stroke-width="2.75"/>
<circle cx="420.90" cy="1074.16" r="8.8" fill="none" stroke="#F0706A" stroke-width="2.75"/>
<circle cx="455.70" cy="1056.67" r="8.8" fill="none" stroke="#F0706A" stroke-width="2.75"/>
<circle cx="490.50" cy="1035.05" r="8.8" fill="none" stroke="#F0706A" stroke-width="2.75"/>
<circle cx="525.30" cy="1020.99" r="8.8" fill="none" stroke="#F0706A" stroke-width="2.75"/>
<circle cx="560.10" cy="1003.15" r="8.8" fill="none" stroke="#F0706A" stroke-width="2.75"/>
<circle cx="594.90" cy="993.54" r="8.8" fill="none" stroke="#F0706A" stroke-width="2.75"/>
<circle cx="629.70" cy="992.86" r="8.8" fill="none" stroke="#F0706A" stroke-width="2.75"/>
<circle cx="664.50" cy="994.57" r="8.8" fill="none" stroke="#F0706A" stroke-width="2.75"/>
<circle cx="699.30" cy="998.00" r="8.8" fill="none" stroke="#F0706A" stroke-width="2.75"/>
<circle cx="734.10" cy="998.00" r="8.8" fill="none" stroke="#F0706A" stroke-width="2.75"/>
<circle cx="768.90" cy="1000.40" r="8.8" fill="none" stroke="#F0706A" stroke-width="2.75"/>
<circle cx="803.70" cy="1006.24" r="8.8" fill="none" stroke="#F0706A" stroke-width="2.75"/>
<circle cx="838.50" cy="1006.58" r="8.8" fill="none" stroke="#F0706A" stroke-width="2.75"/>
<path d="M142.50,1302.30C154.10,1284.35 165.70,1266.39 177.30,1250.27C188.90,1234.14 200.50,1219.85 212.10,1207.79C223.70,1195.72 235.30,1185.89 246.90,1177.20C258.50,1168.51 270.10,1160.96 281.70,1153.12C293.30,1145.29 304.90,1137.17 316.50,1129.05C328.10,1120.93 339.70,1112.82 351.30,1105.32C362.90,1097.83 374.50,1090.97 386.10,1084.11C397.70,1077.25 409.30,1070.39 420.90,1064.27C432.50,1058.15 444.10,1052.78 455.70,1048.55C467.30,1044.32 478.90,1041.23 490.50,1039.80C502.10,1038.37 513.70,1038.60 525.30,1038.89C536.90,1039.17 548.50,1039.51 560.10,1039.97C571.70,1040.43 583.30,1041.00 594.90,1041.40C606.50,1041.80 618.10,1042.03 629.70,1042.14C641.30,1042.26 652.90,1042.26 664.50,1042.37C676.10,1042.49 687.70,1042.72 699.30,1043.12C710.90,1043.52 722.50,1044.09 734.10,1044.49C745.70,1044.89 757.30,1045.12 768.90,1045.23C780.50,1045.35 792.10,1045.35 803.70,1045.46C815.30,1045.57 826.90,1045.80 838.50,1046.03" fill="none" stroke="#04B830" stroke-width="2.6" stroke-linecap="round" stroke-linejoin="round" stroke-dasharray="4.1,14.3"/>
<polygon points="142.50,1289.90 153.24,1308.50 131.76,1308.50" fill="none" stroke="#04B830" stroke-width="2.75" stroke-linejoin="round"/>
<polygon points="177.30,1236.04 188.04,1254.64 166.56,1254.64" fill="none" stroke="#04B830" stroke-width="2.75" stroke-linejoin="round"/>
<polygon points="212.10,1193.16 222.84,1211.76 201.36,1211.76" fill="none" stroke="#04B830" stroke-width="2.75" stroke-linejoin="round"/>
<polygon points="246.90,1163.65 257.64,1182.25 236.16,1182.25" fill="none" stroke="#04B830" stroke-width="2.75" stroke-linejoin="round"/>
<polygon points="281.70,1141.01 292.44,1159.61 270.96,1159.61" fill="none" stroke="#04B830" stroke-width="2.75" stroke-linejoin="round"/>
<polygon points="316.50,1116.65 327.24,1135.25 305.76,1135.25" fill="none" stroke="#04B830" stroke-width="2.75" stroke-linejoin="round"/>
<polygon points="351.30,1092.30 362.04,1110.90 340.56,1110.90" fill="none" stroke="#04B830" stroke-width="2.75" stroke-linejoin="round"/>
<polygon points="386.10,1071.71 396.84,1090.31 375.36,1090.31" fill="none" stroke="#04B830" stroke-width="2.75" stroke-linejoin="round"/>
<polygon points="420.90,1051.13 431.64,1069.73 410.16,1069.73" fill="none" stroke="#04B830" stroke-width="2.75" stroke-linejoin="round"/>
<polygon points="455.70,1035.00 466.44,1053.60 444.96,1053.60" fill="none" stroke="#04B830" stroke-width="2.75" stroke-linejoin="round"/>
<polygon points="490.50,1025.74 501.24,1044.34 479.76,1044.34" fill="none" stroke="#04B830" stroke-width="2.75" stroke-linejoin="round"/>
<polygon points="525.30,1026.43 536.04,1045.03 514.56,1045.03" fill="none" stroke="#04B830" stroke-width="2.75" stroke-linejoin="round"/>
<polygon points="560.10,1027.46 570.84,1046.06 549.36,1046.06" fill="none" stroke="#04B830" stroke-width="2.75" stroke-linejoin="round"/>
<polygon points="594.90,1029.17 605.64,1047.77 584.16,1047.77" fill="none" stroke="#04B830" stroke-width="2.75" stroke-linejoin="round"/>
<polygon points="629.70,1029.86 640.44,1048.46 618.96,1048.46" fill="none" stroke="#04B830" stroke-width="2.75" stroke-linejoin="round"/>
<polygon points="664.50,1029.86 675.24,1048.46 653.76,1048.46" fill="none" stroke="#04B830" stroke-width="2.75" stroke-linejoin="round"/>
<polygon points="699.30,1030.54 710.04,1049.14 688.56,1049.14" fill="none" stroke="#04B830" stroke-width="2.75" stroke-linejoin="round"/>
<polygon points="734.10,1032.26 744.84,1050.86 723.36,1050.86" fill="none" stroke="#04B830" stroke-width="2.75" stroke-linejoin="round"/>
<polygon points="768.90,1032.95 779.64,1051.55 758.16,1051.55" fill="none" stroke="#04B830" stroke-width="2.75" stroke-linejoin="round"/>
<polygon points="803.70,1032.95 814.44,1051.55 792.96,1051.55" fill="none" stroke="#04B830" stroke-width="2.75" stroke-linejoin="round"/>
<polygon points="838.50,1033.63 849.24,1052.23 827.76,1052.23" fill="none" stroke="#04B830" stroke-width="2.75" stroke-linejoin="round"/>
<path d="M142.50,1302.30C154.10,1290.41 165.70,1278.51 177.30,1269.48C188.90,1260.45 200.50,1254.27 212.10,1246.50C223.70,1238.72 235.30,1229.34 246.90,1221.45C258.50,1213.56 270.10,1207.16 281.70,1200.30C293.30,1193.43 304.90,1186.12 316.50,1179.31C328.10,1172.51 339.70,1166.22 351.30,1160.39C362.90,1154.55 374.50,1149.18 386.10,1143.63C397.70,1138.09 409.30,1132.37 420.90,1127.05C432.50,1121.73 444.10,1116.82 455.70,1112.70C467.30,1108.58 478.90,1105.27 490.50,1102.24C502.10,1099.21 513.70,1096.46 525.30,1094.58C536.90,1092.69 548.50,1091.66 560.10,1091.20C571.70,1090.74 583.30,1090.86 594.90,1090.92C606.50,1090.97 618.10,1090.97 629.70,1090.97C641.30,1090.97 652.90,1090.97 664.50,1090.97C676.10,1090.97 687.70,1090.97 699.30,1091.03C710.90,1091.09 722.50,1091.20 734.10,1091.26C745.70,1091.32 757.30,1091.32 768.90,1091.60C780.50,1091.89 792.10,1092.46 803.70,1093.03C815.30,1093.60 826.90,1094.18 838.50,1094.75" fill="none" stroke="#B57FDD" stroke-width="2.6" stroke-linecap="round" stroke-linejoin="round" stroke-dasharray="16.9,9.1,3.3,9.4"/>
<polygon points="142.50,1314.70 153.24,1296.10 131.76,1296.10" fill="none" stroke="#B57FDD" stroke-width="2.75" stroke-linejoin="round"/>
<polygon points="177.30,1279.02 188.04,1260.42 166.56,1260.42" fill="none" stroke="#B57FDD" stroke-width="2.75" stroke-linejoin="round"/>
<polygon points="212.10,1260.50 222.84,1241.90 201.36,1241.90" fill="none" stroke="#B57FDD" stroke-width="2.75" stroke-linejoin="round"/>
<polygon points="246.90,1232.37 257.64,1213.76 236.16,1213.76" fill="none" stroke="#B57FDD" stroke-width="2.75" stroke-linejoin="round"/>
<polygon points="281.70,1213.15 292.44,1194.55 270.96,1194.55" fill="none" stroke="#B57FDD" stroke-width="2.75" stroke-linejoin="round"/>
<polygon points="316.50,1191.20 327.24,1172.60 305.76,1172.60" fill="none" stroke="#B57FDD" stroke-width="2.75" stroke-linejoin="round"/>
<polygon points="351.30,1172.33 362.04,1153.73 340.56,1153.73" fill="none" stroke="#B57FDD" stroke-width="2.75" stroke-linejoin="round"/>
<polygon points="386.10,1156.21 396.84,1137.61 375.36,1137.61" fill="none" stroke="#B57FDD" stroke-width="2.75" stroke-linejoin="round"/>
<polygon points="420.90,1139.05 431.64,1120.45 410.16,1120.45" fill="none" stroke="#B57FDD" stroke-width="2.75" stroke-linejoin="round"/>
<polygon points="455.70,1124.30 466.44,1105.70 444.96,1105.70" fill="none" stroke="#B57FDD" stroke-width="2.75" stroke-linejoin="round"/>
<polygon points="490.50,1114.35 501.24,1095.75 479.76,1095.75" fill="none" stroke="#B57FDD" stroke-width="2.75" stroke-linejoin="round"/>
<polygon points="525.30,1106.12 536.04,1087.52 514.56,1087.52" fill="none" stroke="#B57FDD" stroke-width="2.75" stroke-linejoin="round"/>
<polygon points="560.10,1103.03 570.84,1084.43 549.36,1084.43" fill="none" stroke="#B57FDD" stroke-width="2.75" stroke-linejoin="round"/>
<polygon points="594.90,1103.37 605.64,1084.77 584.16,1084.77" fill="none" stroke="#B57FDD" stroke-width="2.75" stroke-linejoin="round"/>
<polygon points="629.70,1103.37 640.44,1084.77 618.96,1084.77" fill="none" stroke="#B57FDD" stroke-width="2.75" stroke-linejoin="round"/>
<polygon points="664.50,1103.37 675.24,1084.77 653.76,1084.77" fill="none" stroke="#B57FDD" stroke-width="2.75" stroke-linejoin="round"/>
<polygon points="699.30,1103.37 710.04,1084.77 688.56,1084.77" fill="none" stroke="#B57FDD" stroke-width="2.75" stroke-linejoin="round"/>
<polygon points="734.10,1103.72 744.84,1085.12 723.36,1085.12" fill="none" stroke="#B57FDD" stroke-width="2.75" stroke-linejoin="round"/>
<polygon points="768.90,1103.72 779.64,1085.12 758.16,1085.12" fill="none" stroke="#B57FDD" stroke-width="2.75" stroke-linejoin="round"/>
<polygon points="803.70,1105.43 814.44,1086.83 792.96,1086.83" fill="none" stroke="#B57FDD" stroke-width="2.75" stroke-linejoin="round"/>
<polygon points="838.50,1107.15 849.24,1088.55 827.76,1088.55" fill="none" stroke="#B57FDD" stroke-width="2.75" stroke-linejoin="round"/>
<path d="M142.50,1302.30C154.10,1288.23 165.70,1274.17 177.30,1262.68C188.90,1251.18 200.50,1242.26 212.10,1235.35C223.70,1228.43 235.30,1223.51 246.90,1217.68C258.50,1211.85 270.10,1205.10 281.70,1199.27C293.30,1193.43 304.90,1188.52 316.50,1184.34C328.10,1180.17 339.70,1176.74 351.30,1173.37C362.90,1169.99 374.50,1166.68 386.10,1162.67C397.70,1158.67 409.30,1153.98 420.90,1150.32C432.50,1146.66 444.10,1144.03 455.70,1141.06C467.30,1138.09 478.90,1134.77 490.50,1131.86C502.10,1128.94 513.70,1126.42 525.30,1123.85C536.90,1121.28 548.50,1118.65 560.10,1116.53C571.70,1114.42 583.30,1112.82 594.90,1111.61C606.50,1110.41 618.10,1109.61 629.70,1108.81C641.30,1108.01 652.90,1107.21 664.50,1106.64C676.10,1106.07 687.70,1105.73 699.30,1105.84C710.90,1105.95 722.50,1106.53 734.10,1107.21C745.70,1107.90 757.30,1108.70 768.90,1109.56C780.50,1110.41 792.10,1111.33 803.70,1112.59C815.30,1113.84 826.90,1115.45 838.50,1117.05" fill="none" stroke="#D7DA0E" stroke-width="2.6" stroke-linecap="round" stroke-linejoin="round" stroke-dasharray="13.1,8.4,4.0,8.4,4.0,8.4"/>
<polygon points="142.50,1290.90 153.90,1302.30 142.50,1313.70 131.10,1302.30" fill="none" stroke="#D7DA0E" stroke-width="2.75" stroke-linejoin="round"/>
<polygon points="177.30,1248.70 188.70,1260.10 177.30,1271.50 165.90,1260.10" fill="none" stroke="#D7DA0E" stroke-width="2.75" stroke-linejoin="round"/>
<polygon points="212.10,1221.94 223.50,1233.34 212.10,1244.74 200.70,1233.34" fill="none" stroke="#D7DA0E" stroke-width="2.75" stroke-linejoin="round"/>
<polygon points="246.90,1207.19 258.30,1218.59 246.90,1229.99 235.50,1218.59" fill="none" stroke="#D7DA0E" stroke-width="2.75" stroke-linejoin="round"/>
<polygon points="281.70,1186.95 293.10,1198.35 281.70,1209.75 270.30,1198.35" fill="none" stroke="#D7DA0E" stroke-width="2.75" stroke-linejoin="round"/>
<polygon points="316.50,1172.20 327.90,1183.60 316.50,1195.00 305.10,1183.60" fill="none" stroke="#D7DA0E" stroke-width="2.75" stroke-linejoin="round"/>
<polygon points="351.30,1161.91 362.70,1173.31 351.30,1184.71 339.90,1173.31" fill="none" stroke="#D7DA0E" stroke-width="2.75" stroke-linejoin="round"/>
<polygon points="386.10,1151.96 397.50,1163.36 386.10,1174.76 374.70,1163.36" fill="none" stroke="#D7DA0E" stroke-width="2.75" stroke-linejoin="round"/>
<polygon points="420.90,1137.89 432.30,1149.29 420.90,1160.69 409.50,1149.29" fill="none" stroke="#D7DA0E" stroke-width="2.75" stroke-linejoin="round"/>
<polygon points="455.70,1130.00 467.10,1141.40 455.70,1152.80 444.30,1141.40" fill="none" stroke="#D7DA0E" stroke-width="2.75" stroke-linejoin="round"/>
<polygon points="490.50,1120.05 501.90,1131.45 490.50,1142.85 479.10,1131.45" fill="none" stroke="#D7DA0E" stroke-width="2.75" stroke-linejoin="round"/>
<polygon points="525.30,1112.51 536.70,1123.91 525.30,1135.31 513.90,1123.91" fill="none" stroke="#D7DA0E" stroke-width="2.75" stroke-linejoin="round"/>
<polygon points="560.10,1104.62 571.50,1116.02 560.10,1127.42 548.70,1116.02" fill="none" stroke="#D7DA0E" stroke-width="2.75" stroke-linejoin="round"/>
<polygon points="594.90,1099.81 606.30,1111.21 594.90,1122.61 583.50,1111.21" fill="none" stroke="#D7DA0E" stroke-width="2.75" stroke-linejoin="round"/>
<polygon points="629.70,1097.41 641.10,1108.81 629.70,1120.21 618.30,1108.81" fill="none" stroke="#D7DA0E" stroke-width="2.75" stroke-linejoin="round"/>
<polygon points="664.50,1095.01 675.90,1106.41 664.50,1117.81 653.10,1106.41" fill="none" stroke="#D7DA0E" stroke-width="2.75" stroke-linejoin="round"/>
<polygon points="699.30,1093.98 710.70,1105.38 699.30,1116.78 687.90,1105.38" fill="none" stroke="#D7DA0E" stroke-width="2.75" stroke-linejoin="round"/>
<polygon points="734.10,1095.70 745.50,1107.10 734.10,1118.50 722.70,1107.10" fill="none" stroke="#D7DA0E" stroke-width="2.75" stroke-linejoin="round"/>
<polygon points="768.90,1098.10 780.30,1109.50 768.90,1120.90 757.50,1109.50" fill="none" stroke="#D7DA0E" stroke-width="2.75" stroke-linejoin="round"/>
<polygon points="803.70,1100.84 815.10,1112.24 803.70,1123.64 792.30,1112.24" fill="none" stroke="#D7DA0E" stroke-width="2.75" stroke-linejoin="round"/>
<polygon points="838.50,1105.65 849.90,1117.05 838.50,1128.45 827.10,1117.05" fill="none" stroke="#D7DA0E" stroke-width="2.75" stroke-linejoin="round"/>
<path d="M142.50,1302.30C154.10,1293.61 165.70,1284.92 177.30,1274.17C188.90,1263.42 200.50,1250.61 212.10,1241.23C223.70,1231.86 235.30,1225.91 246.90,1220.59C258.50,1215.28 270.10,1210.59 281.70,1205.67C293.30,1200.75 304.90,1195.61 316.50,1191.66C328.10,1187.72 339.70,1184.97 351.30,1181.66C362.90,1178.34 374.50,1174.45 386.10,1170.62C397.70,1166.79 409.30,1163.02 420.90,1159.76C432.50,1156.50 444.10,1153.75 455.70,1150.78C467.30,1147.81 478.90,1144.61 490.50,1142.15C502.10,1139.69 513.70,1137.97 525.30,1135.91C536.90,1133.86 548.50,1131.45 560.10,1129.63C571.70,1127.80 583.30,1126.54 594.90,1125.62C606.50,1124.71 618.10,1124.14 629.70,1123.85C641.30,1123.56 652.90,1123.56 664.50,1123.68C676.10,1123.79 687.70,1124.02 699.30,1124.31C710.90,1124.59 722.50,1124.94 734.10,1125.11C745.70,1125.28 757.30,1125.28 768.90,1125.28C780.50,1125.28 792.10,1125.28 803.70,1125.51C815.30,1125.74 826.90,1126.19 838.50,1126.65" fill="none" stroke="#1FCDB9" stroke-width="2.6" stroke-linecap="round" stroke-linejoin="round" stroke-dasharray="6.6,7.4"/>
<polygon points="130.10,1302.30 148.70,1291.56 148.70,1313.04" fill="none" stroke="#1FCDB9" stroke-width="2.75" stroke-linejoin="round"/>
<polygon points="164.90,1276.23 183.50,1265.49 183.50,1286.97" fill="none" stroke="#1FCDB9" stroke-width="2.75" stroke-linejoin="round"/>
<polygon points="199.70,1237.80 218.30,1227.07 218.30,1248.54" fill="none" stroke="#1FCDB9" stroke-width="2.75" stroke-linejoin="round"/>
<polygon points="234.50,1219.96 253.10,1209.23 253.10,1230.70" fill="none" stroke="#1FCDB9" stroke-width="2.75" stroke-linejoin="round"/>
<polygon points="269.30,1205.90 287.90,1195.16 287.90,1216.64" fill="none" stroke="#1FCDB9" stroke-width="2.75" stroke-linejoin="round"/>
<polygon points="304.10,1190.46 322.70,1179.72 322.70,1201.20" fill="none" stroke="#1FCDB9" stroke-width="2.75" stroke-linejoin="round"/>
<polygon points="338.90,1182.23 357.50,1171.49 357.50,1192.97" fill="none" stroke="#1FCDB9" stroke-width="2.75" stroke-linejoin="round"/>
<polygon points="373.70,1170.56 392.30,1159.83 392.30,1181.30" fill="none" stroke="#1FCDB9" stroke-width="2.75" stroke-linejoin="round"/>
<polygon points="408.50,1159.24 427.10,1148.50 427.10,1169.98" fill="none" stroke="#1FCDB9" stroke-width="2.75" stroke-linejoin="round"/>
<polygon points="443.30,1151.01 461.90,1140.27 461.90,1161.75" fill="none" stroke="#1FCDB9" stroke-width="2.75" stroke-linejoin="round"/>
<polygon points="478.10,1141.40 496.70,1130.67 496.70,1152.14" fill="none" stroke="#1FCDB9" stroke-width="2.75" stroke-linejoin="round"/>
<polygon points="512.90,1136.26 531.50,1125.52 531.50,1147.00" fill="none" stroke="#1FCDB9" stroke-width="2.75" stroke-linejoin="round"/>
<polygon points="547.70,1129.05 566.30,1118.32 566.30,1139.79" fill="none" stroke="#1FCDB9" stroke-width="2.75" stroke-linejoin="round"/>
<polygon points="582.50,1125.28 601.10,1114.54 601.10,1136.02" fill="none" stroke="#1FCDB9" stroke-width="2.75" stroke-linejoin="round"/>
<polygon points="617.30,1123.56 635.90,1112.83 635.90,1134.30" fill="none" stroke="#1FCDB9" stroke-width="2.75" stroke-linejoin="round"/>
<polygon points="652.10,1123.56 670.70,1112.83 670.70,1134.30" fill="none" stroke="#1FCDB9" stroke-width="2.75" stroke-linejoin="round"/>
<polygon points="686.90,1124.25 705.50,1113.51 705.50,1134.99" fill="none" stroke="#1FCDB9" stroke-width="2.75" stroke-linejoin="round"/>
<polygon points="721.70,1125.28 740.30,1114.54 740.30,1136.02" fill="none" stroke="#1FCDB9" stroke-width="2.75" stroke-linejoin="round"/>
<polygon points="756.50,1125.28 775.10,1114.54 775.10,1136.02" fill="none" stroke="#1FCDB9" stroke-width="2.75" stroke-linejoin="round"/>
<polygon points="791.30,1125.28 809.90,1114.54 809.90,1136.02" fill="none" stroke="#1FCDB9" stroke-width="2.75" stroke-linejoin="round"/>
<polygon points="826.10,1126.65 844.70,1115.91 844.70,1137.39" fill="none" stroke="#1FCDB9" stroke-width="2.75" stroke-linejoin="round"/>
<path d="M142.50,1302.30C154.10,1293.84 165.70,1285.38 177.30,1275.37C188.90,1265.36 200.50,1253.81 212.10,1245.18C223.70,1236.55 235.30,1230.83 246.90,1226.03C258.50,1221.22 270.10,1217.33 281.70,1212.99C293.30,1208.64 304.90,1203.84 316.50,1200.01C328.10,1196.18 339.70,1193.32 351.30,1189.43C362.90,1185.54 374.50,1180.63 386.10,1176.91C397.70,1173.19 409.30,1170.68 420.90,1167.93C432.50,1165.19 444.10,1162.22 455.70,1159.76C467.30,1157.30 478.90,1155.35 490.50,1153.30C502.10,1151.24 513.70,1149.07 525.30,1147.06C536.90,1145.06 548.50,1143.23 560.10,1142.09C571.70,1140.95 583.30,1140.49 594.90,1139.86C606.50,1139.23 618.10,1138.43 629.70,1137.57C641.30,1136.72 652.90,1135.80 664.50,1135.34C676.10,1134.89 687.70,1134.89 699.30,1135.06C710.90,1135.23 722.50,1135.57 734.10,1135.74C745.70,1135.91 757.30,1135.91 768.90,1136.03C780.50,1136.14 792.10,1136.37 803.70,1136.77C815.30,1137.17 826.90,1137.74 838.50,1138.32" fill="none" stroke="#F26AF2" stroke-width="2.6" stroke-linecap="round" stroke-linejoin="round" stroke-dasharray="1.9,4.9"/>
<polygon points="154.90,1302.30 136.30,1291.56 136.30,1313.04" fill="none" stroke="#F26AF2" stroke-width="2.75" stroke-linejoin="round"/>
<polygon points="189.70,1276.91 171.10,1266.17 171.10,1287.65" fill="none" stroke="#F26AF2" stroke-width="2.75" stroke-linejoin="round"/>
<polygon points="224.50,1242.26 205.90,1231.53 205.90,1253.00" fill="none" stroke="#F26AF2" stroke-width="2.75" stroke-linejoin="round"/>
<polygon points="259.30,1225.11 240.70,1214.37 240.70,1235.85" fill="none" stroke="#F26AF2" stroke-width="2.75" stroke-linejoin="round"/>
<polygon points="294.10,1213.45 275.50,1202.71 275.50,1224.19" fill="none" stroke="#F26AF2" stroke-width="2.75" stroke-linejoin="round"/>
<polygon points="328.90,1199.04 310.30,1188.30 310.30,1209.78" fill="none" stroke="#F26AF2" stroke-width="2.75" stroke-linejoin="round"/>
<polygon points="363.70,1190.46 345.10,1179.72 345.10,1201.20" fill="none" stroke="#F26AF2" stroke-width="2.75" stroke-linejoin="round"/>
<polygon points="398.50,1175.71 379.90,1164.97 379.90,1186.45" fill="none" stroke="#F26AF2" stroke-width="2.75" stroke-linejoin="round"/>
<polygon points="433.30,1168.16 414.70,1157.42 414.70,1178.90" fill="none" stroke="#F26AF2" stroke-width="2.75" stroke-linejoin="round"/>
<polygon points="468.10,1159.24 449.50,1148.50 449.50,1169.98" fill="none" stroke="#F26AF2" stroke-width="2.75" stroke-linejoin="round"/>
<polygon points="502.90,1153.41 484.30,1142.67 484.30,1164.15" fill="none" stroke="#F26AF2" stroke-width="2.75" stroke-linejoin="round"/>
<polygon points="537.70,1146.89 519.10,1136.15 519.10,1157.63" fill="none" stroke="#F26AF2" stroke-width="2.75" stroke-linejoin="round"/>
<polygon points="572.50,1141.40 553.90,1130.67 553.90,1152.14" fill="none" stroke="#F26AF2" stroke-width="2.75" stroke-linejoin="round"/>
<polygon points="607.30,1140.03 588.70,1129.29 588.70,1150.77" fill="none" stroke="#F26AF2" stroke-width="2.75" stroke-linejoin="round"/>
<polygon points="642.10,1137.63 623.50,1126.89 623.50,1148.37" fill="none" stroke="#F26AF2" stroke-width="2.75" stroke-linejoin="round"/>
<polygon points="676.90,1134.89 658.30,1124.15 658.30,1145.62" fill="none" stroke="#F26AF2" stroke-width="2.75" stroke-linejoin="round"/>
<polygon points="711.70,1134.89 693.10,1124.15 693.10,1145.62" fill="none" stroke="#F26AF2" stroke-width="2.75" stroke-linejoin="round"/>
<polygon points="746.50,1135.91 727.90,1125.18 727.90,1146.65" fill="none" stroke="#F26AF2" stroke-width="2.75" stroke-linejoin="round"/>
<polygon points="781.30,1135.91 762.70,1125.18 762.70,1146.65" fill="none" stroke="#F26AF2" stroke-width="2.75" stroke-linejoin="round"/>
<polygon points="816.10,1136.60 797.50,1125.86 797.50,1147.34" fill="none" stroke="#F26AF2" stroke-width="2.75" stroke-linejoin="round"/>
<polygon points="850.90,1138.32 832.30,1127.58 832.30,1149.05" fill="none" stroke="#F26AF2" stroke-width="2.75" stroke-linejoin="round"/>
<g class="tk"><text transform="translate(142.50,1346.80) scale(1,1.065)" text-anchor="middle">0</text><text transform="translate(316.50,1346.80) scale(1,1.065)" text-anchor="middle">1</text><text transform="translate(490.50,1346.80) scale(1,1.065)" text-anchor="middle">2</text><text transform="translate(664.50,1346.80) scale(1,1.065)" text-anchor="middle">3</text><text transform="translate(838.50,1346.80) scale(1,1.065)" text-anchor="middle">4</text><text transform="translate(125.90,1313.30) scale(1,1.065)" text-anchor="end">0</text><text transform="translate(125.90,1176.08) scale(1,1.065)" text-anchor="end">40</text><text transform="translate(125.90,1038.85) scale(1,1.065)" text-anchor="end">80</text><text transform="translate(125.90,901.62) scale(1,1.065)" text-anchor="end">120</text><text transform="translate(125.90,764.40) scale(1,1.065)" text-anchor="end">160</text></g>
<text class="tt" x="490.50" y="1401.50" text-anchor="middle">Shear displacement, <tspan font-style="italic">ΔL</tspan> (mm)</text>
<text class="tt" transform="translate(44.80,1027.85) rotate(-90)" text-anchor="middle">Shear stress, <tspan font-style="italic" dx="3">τ</tspan><tspan dx="-1.8"> (kPa)</tspan></text>
<text class="pl" x="6.40" y="763.80">(c)</text>
<path d="M164.40,785.60H232.50" fill="none" stroke="#6396F6" stroke-width="2.6" stroke-linecap="round" stroke-linejoin="round"/>
<rect x="190.88" y="777.88" width="15.44" height="15.44" fill="none" stroke="#6396F6" stroke-width="2.75"/>
<text class="lg" x="239.80" y="796.30"><tspan font-style="italic">N</tspan><tspan dx="-2.4"> =0</tspan></text>
<path d="M164.40,823.35H232.50" fill="none" stroke="#F0706A" stroke-width="2.6" stroke-linecap="round" stroke-linejoin="round" stroke-dasharray="14.1,16.9"/>
<circle cx="198.60" cy="823.35" r="8.8" fill="none" stroke="#F0706A" stroke-width="2.75"/>
<text class="lg" x="239.80" y="834.05"><tspan font-style="italic">N</tspan><tspan dx="-2.4"> =1</tspan></text>
<path d="M164.40,861.10H232.50" fill="none" stroke="#04B830" stroke-width="2.6" stroke-linecap="round" stroke-linejoin="round" stroke-dasharray="4.1,14.3"/>
<polygon points="198.60,848.70 209.34,867.30 187.86,867.30" fill="none" stroke="#04B830" stroke-width="2.75" stroke-linejoin="round"/>
<text class="lg" x="239.80" y="871.80"><tspan font-style="italic">N</tspan><tspan dx="-2.4"> =2</tspan></text>
<path d="M164.40,898.85H232.50" fill="none" stroke="#B57FDD" stroke-width="2.6" stroke-linecap="round" stroke-linejoin="round" stroke-dasharray="16.9,9.1,3.3,9.4"/>
<polygon points="198.60,911.25 209.34,892.65 187.86,892.65" fill="none" stroke="#B57FDD" stroke-width="2.75" stroke-linejoin="round"/>
<text class="lg" x="239.80" y="909.55"><tspan font-style="italic">N</tspan><tspan dx="-2.4"> =3</tspan></text>
<path d="M164.40,936.60H232.50" fill="none" stroke="#D7DA0E" stroke-width="2.6" stroke-linecap="round" stroke-linejoin="round" stroke-dasharray="13.1,8.4,4.0,8.4,4.0,8.4"/>
<polygon points="198.60,925.20 210.00,936.60 198.60,948.00 187.20,936.60" fill="none" stroke="#D7DA0E" stroke-width="2.75" stroke-linejoin="round"/>
<text class="lg" x="239.80" y="947.30"><tspan font-style="italic">N</tspan><tspan dx="-2.4"> =4</tspan></text>
<path d="M164.40,974.35H232.50" fill="none" stroke="#1FCDB9" stroke-width="2.6" stroke-linecap="round" stroke-linejoin="round" stroke-dasharray="6.6,7.4"/>
<polygon points="186.20,974.35 204.80,963.61 204.80,985.09" fill="none" stroke="#1FCDB9" stroke-width="2.75" stroke-linejoin="round"/>
<text class="lg" x="239.80" y="985.05"><tspan font-style="italic">N</tspan><tspan dx="-2.4"> =5</tspan></text>
<path d="M164.40,1012.10H232.50" fill="none" stroke="#F26AF2" stroke-width="2.6" stroke-linecap="round" stroke-linejoin="round" stroke-dasharray="1.9,4.9"/>
<polygon points="211.00,1012.10 192.40,1001.36 192.40,1022.84" fill="none" stroke="#F26AF2" stroke-width="2.75" stroke-linejoin="round"/>
<text class="lg" x="239.80" y="1022.80"><tspan font-style="italic">N</tspan><tspan dx="-2.4"> =10</tspan></text>
<text class="pr" x="165.20" y="1063.10">100 kPa</text>
<path d="M1139.26,1302.30V1294.80M1139.26,753.40V760.90M1226.22,1302.30V1287.30M1226.22,753.40V768.40M1313.19,1302.30V1294.80M1313.19,753.40V760.90M1400.15,1302.30V1287.30M1400.15,753.40V768.40M1487.11,1302.30V1294.80M1487.11,753.40V760.90M1574.08,1302.30V1287.30M1574.08,753.40V768.40M1661.04,1302.30V1294.80M1661.04,753.40V760.90M1052.30,1233.69H1059.80M1748.00,1233.69H1740.50M1052.30,1165.08H1067.30M1748.00,1165.08H1733.00M1052.30,1096.46H1059.80M1748.00,1096.46H1740.50M1052.30,1027.85H1067.30M1748.00,1027.85H1733.00M1052.30,959.24H1059.80M1748.00,959.24H1740.50M1052.30,890.62H1067.30M1748.00,890.62H1733.00M1052.30,822.01H1059.80M1748.00,822.01H1740.50" stroke="#000" stroke-width="2.8" fill="none"/>
<rect x="1052.30" y="753.40" width="695.70" height="548.90" fill="none" stroke="#000" stroke-width="2.8" stroke-linejoin="miter"/>
<path d="M1052.30,1302.30C1063.89,1295.26 1075.49,1288.21 1087.09,1272.11C1098.68,1256.01 1110.27,1230.85 1121.87,1208.80C1133.46,1186.76 1145.06,1167.82 1156.65,1146.60C1168.25,1125.37 1179.85,1101.86 1191.44,1081.37C1203.04,1060.88 1214.63,1043.40 1226.23,1026.71C1237.82,1010.01 1249.41,994.09 1261.01,980.28C1272.61,966.46 1284.20,954.75 1295.80,943.09C1307.39,931.43 1318.98,919.81 1330.58,909.65C1342.17,899.50 1353.77,890.81 1365.37,883.49C1376.96,876.17 1388.56,870.22 1400.15,867.25C1411.75,864.28 1423.34,864.28 1434.93,865.65C1446.53,867.02 1458.12,869.77 1469.72,873.33C1481.31,876.90 1492.91,881.29 1504.51,883.58C1516.10,885.87 1527.69,886.05 1539.29,886.83C1550.88,887.61 1562.48,888.98 1574.08,890.40C1585.67,891.81 1597.27,893.28 1608.86,894.79C1620.45,896.30 1632.05,897.85 1643.65,898.63C1655.24,899.41 1666.84,899.41 1678.43,900.09C1690.03,900.78 1701.62,902.15 1713.22,902.93C1724.81,903.71 1736.40,903.89 1748.00,904.07" fill="none" stroke="#6396F6" stroke-width="2.6" stroke-linecap="round" stroke-linejoin="round"/>
<rect x="1044.58" y="1294.58" width="15.44" height="15.44" fill="none" stroke="#6396F6" stroke-width="2.75"/>
<rect x="1079.37" y="1273.45" width="15.44" height="15.44" fill="none" stroke="#6396F6" stroke-width="2.75"/>
<rect x="1114.15" y="1197.97" width="15.44" height="15.44" fill="none" stroke="#6396F6" stroke-width="2.75"/>
<rect x="1148.93" y="1141.16" width="15.44" height="15.44" fill="none" stroke="#6396F6" stroke-width="2.75"/>
<rect x="1183.72" y="1070.63" width="15.44" height="15.44" fill="none" stroke="#6396F6" stroke-width="2.75"/>
<rect x="1218.50" y="1018.21" width="15.44" height="15.44" fill="none" stroke="#6396F6" stroke-width="2.75"/>
<rect x="1253.29" y="970.45" width="15.44" height="15.44" fill="none" stroke="#6396F6" stroke-width="2.75"/>
<rect x="1288.08" y="935.32" width="15.44" height="15.44" fill="none" stroke="#6396F6" stroke-width="2.75"/>
<rect x="1322.86" y="900.47" width="15.44" height="15.44" fill="none" stroke="#6396F6" stroke-width="2.75"/>
<rect x="1357.64" y="874.40" width="15.44" height="15.44" fill="none" stroke="#6396F6" stroke-width="2.75"/>
<rect x="1392.43" y="856.56" width="15.44" height="15.44" fill="none" stroke="#6396F6" stroke-width="2.75"/>
<rect x="1427.21" y="856.56" width="15.44" height="15.44" fill="none" stroke="#6396F6" stroke-width="2.75"/>
<rect x="1462.00" y="864.79" width="15.44" height="15.44" fill="none" stroke="#6396F6" stroke-width="2.75"/>
<rect x="1496.79" y="877.96" width="15.44" height="15.44" fill="none" stroke="#6396F6" stroke-width="2.75"/>
<rect x="1531.57" y="878.51" width="15.44" height="15.44" fill="none" stroke="#6396F6" stroke-width="2.75"/>
<rect x="1566.36" y="882.63" width="15.44" height="15.44" fill="none" stroke="#6396F6" stroke-width="2.75"/>
<rect x="1601.14" y="887.02" width="15.44" height="15.44" fill="none" stroke="#6396F6" stroke-width="2.75"/>
<rect x="1635.92" y="891.69" width="15.44" height="15.44" fill="none" stroke="#6396F6" stroke-width="2.75"/>
<rect x="1670.71" y="891.69" width="15.44" height="15.44" fill="none" stroke="#6396F6" stroke-width="2.75"/>
<rect x="1705.50" y="895.80" width="15.44" height="15.44" fill="none" stroke="#6396F6" stroke-width="2.75"/>
<rect x="1740.28" y="896.35" width="15.44" height="15.44" fill="none" stroke="#6396F6" stroke-width="2.75"/>
<path d="M1052.30,1302.30C1063.89,1290.96 1075.49,1279.61 1087.09,1266.21C1098.68,1252.81 1110.27,1237.35 1121.87,1222.34C1133.46,1207.34 1145.06,1192.79 1156.65,1178.20C1168.25,1163.61 1179.85,1148.97 1191.44,1134.38C1203.04,1119.79 1214.63,1105.24 1226.23,1092.80C1237.82,1080.36 1249.41,1070.02 1261.01,1060.33C1272.61,1050.63 1284.20,1041.57 1295.80,1033.84C1307.39,1026.11 1318.98,1019.71 1330.58,1015.13C1342.17,1010.56 1353.77,1007.82 1365.37,1004.89C1376.96,1001.96 1388.56,998.85 1400.15,995.69C1411.75,992.54 1423.34,989.34 1434.93,986.73C1446.53,984.12 1458.12,982.11 1469.72,981.06C1481.31,980.00 1492.91,979.91 1504.51,980.60C1516.10,981.28 1527.69,982.75 1539.29,983.76C1550.88,984.76 1562.48,985.31 1574.08,985.72C1585.67,986.13 1597.27,986.41 1608.86,986.59C1620.45,986.77 1632.05,986.87 1643.65,987.14C1655.24,987.41 1666.84,987.87 1678.43,988.10C1690.03,988.33 1701.62,988.33 1713.22,988.47C1724.81,988.60 1736.40,988.88 1748.00,989.15" fill="none" stroke="#F0706A" stroke-width="2.6" stroke-linecap="round" stroke-linejoin="round" stroke-dasharray="14.1,16.9"/>
<circle cx="1052.30" cy="1302.30" r="8.8" fill="none" stroke="#F0706A" stroke-width="2.75"/>
<circle cx="1087.09" cy="1268.27" r="8.8" fill="none" stroke="#F0706A" stroke-width="2.75"/>
<circle cx="1121.87" cy="1221.89" r="8.8" fill="none" stroke="#F0706A" stroke-width="2.75"/>
<circle cx="1156.65" cy="1178.25" r="8.8" fill="none" stroke="#F0706A" stroke-width="2.75"/>
<circle cx="1191.44" cy="1134.34" r="8.8" fill="none" stroke="#F0706A" stroke-width="2.75"/>
<circle cx="1226.22" cy="1090.70" r="8.8" fill="none" stroke="#F0706A" stroke-width="2.75"/>
<circle cx="1261.01" cy="1059.69" r="8.8" fill="none" stroke="#F0706A" stroke-width="2.75"/>
<circle cx="1295.80" cy="1032.52" r="8.8" fill="none" stroke="#F0706A" stroke-width="2.75"/>
<circle cx="1330.58" cy="1013.30" r="8.8" fill="none" stroke="#F0706A" stroke-width="2.75"/>
<circle cx="1365.37" cy="1005.07" r="8.8" fill="none" stroke="#F0706A" stroke-width="2.75"/>
<circle cx="1400.15" cy="995.74" r="8.8" fill="none" stroke="#F0706A" stroke-width="2.75"/>
<circle cx="1434.93" cy="986.13" r="8.8" fill="none" stroke="#F0706A" stroke-width="2.75"/>
<circle cx="1469.72" cy="980.10" r="8.8" fill="none" stroke="#F0706A" stroke-width="2.75"/>
<circle cx="1504.51" cy="979.82" r="8.8" fill="none" stroke="#F0706A" stroke-width="2.75"/>
<circle cx="1539.29" cy="984.21" r="8.8" fill="none" stroke="#F0706A" stroke-width="2.75"/>
<circle cx="1574.08" cy="985.86" r="8.8" fill="none" stroke="#F0706A" stroke-width="2.75"/>
<circle cx="1608.86" cy="986.68" r="8.8" fill="none" stroke="#F0706A" stroke-width="2.75"/>
<circle cx="1643.64" cy="986.96" r="8.8" fill="none" stroke="#F0706A" stroke-width="2.75"/>
<circle cx="1678.43" cy="988.33" r="8.8" fill="none" stroke="#F0706A" stroke-width="2.75"/>
<circle cx="1713.22" cy="988.33" r="8.8" fill="none" stroke="#F0706A" stroke-width="2.75"/>
<circle cx="1748.00" cy="989.15" r="8.8" fill="none" stroke="#F0706A" stroke-width="2.75"/>
<path d="M1052.30,1302.30C1063.89,1276.14 1075.49,1249.97 1087.09,1227.05C1098.68,1204.14 1110.27,1184.47 1121.87,1168.00C1133.46,1151.54 1145.06,1138.27 1156.65,1127.38C1168.25,1116.50 1179.85,1107.99 1191.44,1100.35C1203.04,1092.71 1214.63,1085.94 1226.23,1079.36C1237.82,1072.77 1249.41,1066.36 1261.01,1059.82C1272.61,1053.28 1284.20,1046.60 1295.80,1042.30C1307.39,1038.00 1318.98,1036.08 1330.58,1033.93C1342.17,1031.78 1353.77,1029.41 1365.37,1027.12C1376.96,1024.83 1388.56,1022.64 1400.15,1021.54C1411.75,1020.44 1423.34,1020.44 1434.93,1019.34C1446.53,1018.24 1458.12,1016.05 1469.72,1014.95C1481.31,1013.85 1492.91,1013.85 1504.51,1012.76C1516.10,1011.66 1527.69,1009.46 1539.29,1008.36C1550.88,1007.27 1562.48,1007.27 1574.08,1007.27C1585.67,1007.27 1597.27,1007.27 1608.86,1007.27C1620.45,1007.27 1632.05,1007.27 1643.65,1007.27C1655.24,1007.27 1666.84,1007.27 1678.43,1007.27C1690.03,1007.27 1701.62,1007.27 1713.22,1007.27C1724.81,1007.27 1736.40,1007.27 1748.00,1007.27" fill="none" stroke="#04B830" stroke-width="2.6" stroke-linecap="round" stroke-linejoin="round" stroke-dasharray="4.1,14.3"/>
<polygon points="1052.30,1289.90 1063.04,1308.50 1041.56,1308.50" fill="none" stroke="#04B830" stroke-width="2.75" stroke-linejoin="round"/>
<polygon points="1087.09,1211.41 1097.82,1230.01 1076.35,1230.01" fill="none" stroke="#04B830" stroke-width="2.75" stroke-linejoin="round"/>
<polygon points="1121.87,1152.40 1132.61,1171.00 1111.13,1171.00" fill="none" stroke="#04B830" stroke-width="2.75" stroke-linejoin="round"/>
<polygon points="1156.65,1112.61 1167.39,1131.21 1145.92,1131.21" fill="none" stroke="#04B830" stroke-width="2.75" stroke-linejoin="round"/>
<polygon points="1191.44,1087.08 1202.18,1105.68 1180.70,1105.68" fill="none" stroke="#04B830" stroke-width="2.75" stroke-linejoin="round"/>
<polygon points="1226.22,1066.77 1236.96,1085.37 1215.49,1085.37" fill="none" stroke="#04B830" stroke-width="2.75" stroke-linejoin="round"/>
<polygon points="1261.01,1047.56 1271.75,1066.16 1250.27,1066.16" fill="none" stroke="#04B830" stroke-width="2.75" stroke-linejoin="round"/>
<polygon points="1295.80,1027.53 1306.53,1046.13 1285.06,1046.13" fill="none" stroke="#04B830" stroke-width="2.75" stroke-linejoin="round"/>
<polygon points="1330.58,1021.76 1341.32,1040.36 1319.84,1040.36" fill="none" stroke="#04B830" stroke-width="2.75" stroke-linejoin="round"/>
<polygon points="1365.37,1014.63 1376.10,1033.23 1354.63,1033.23" fill="none" stroke="#04B830" stroke-width="2.75" stroke-linejoin="round"/>
<polygon points="1400.15,1008.04 1410.89,1026.64 1389.41,1026.64" fill="none" stroke="#04B830" stroke-width="2.75" stroke-linejoin="round"/>
<polygon points="1434.93,1008.04 1445.67,1026.64 1424.20,1026.64" fill="none" stroke="#04B830" stroke-width="2.75" stroke-linejoin="round"/>
<polygon points="1469.72,1001.45 1480.46,1020.05 1458.98,1020.05" fill="none" stroke="#04B830" stroke-width="2.75" stroke-linejoin="round"/>
<polygon points="1504.51,1001.45 1515.24,1020.05 1493.77,1020.05" fill="none" stroke="#04B830" stroke-width="2.75" stroke-linejoin="round"/>
<polygon points="1539.29,994.87 1550.03,1013.47 1528.55,1013.47" fill="none" stroke="#04B830" stroke-width="2.75" stroke-linejoin="round"/>
<polygon points="1574.08,994.87 1584.81,1013.47 1563.34,1013.47" fill="none" stroke="#04B830" stroke-width="2.75" stroke-linejoin="round"/>
<polygon points="1608.86,994.87 1619.60,1013.47 1598.12,1013.47" fill="none" stroke="#04B830" stroke-width="2.75" stroke-linejoin="round"/>
<polygon points="1643.64,994.87 1654.38,1013.47 1632.91,1013.47" fill="none" stroke="#04B830" stroke-width="2.75" stroke-linejoin="round"/>
<polygon points="1678.43,994.87 1689.17,1013.47 1667.69,1013.47" fill="none" stroke="#04B830" stroke-width="2.75" stroke-linejoin="round"/>
<polygon points="1713.22,994.87 1723.95,1013.47 1702.48,1013.47" fill="none" stroke="#04B830" stroke-width="2.75" stroke-linejoin="round"/>
<polygon points="1748.00,994.87 1758.74,1013.47 1737.26,1013.47" fill="none" stroke="#04B830" stroke-width="2.75" stroke-linejoin="round"/>
<path d="M1052.30,1302.30C1063.89,1289.95 1075.49,1277.60 1087.09,1266.94C1098.68,1256.28 1110.27,1247.32 1121.87,1237.67C1133.46,1228.02 1145.06,1217.68 1156.65,1208.21C1168.25,1198.74 1179.85,1190.14 1191.44,1182.05C1203.04,1173.95 1214.63,1166.36 1226.23,1159.04C1237.82,1151.72 1249.41,1144.67 1261.01,1138.00C1272.61,1131.32 1284.20,1125.01 1295.80,1119.75C1307.39,1114.48 1318.98,1110.28 1330.58,1105.75C1342.17,1101.22 1353.77,1096.37 1365.37,1092.62C1376.96,1088.87 1388.56,1086.22 1400.15,1083.38C1411.75,1080.54 1423.34,1077.53 1434.93,1075.38C1446.53,1073.23 1458.12,1071.94 1469.72,1071.12C1481.31,1070.30 1492.91,1069.93 1504.51,1069.98C1516.10,1070.02 1527.69,1070.48 1539.29,1070.80C1550.88,1071.12 1562.48,1071.30 1574.08,1071.67C1585.67,1072.04 1597.27,1072.59 1608.86,1073.13C1620.45,1073.68 1632.05,1074.23 1643.65,1075.33C1655.24,1076.43 1666.84,1078.07 1678.43,1079.26C1690.03,1080.45 1701.62,1081.18 1713.22,1081.87C1724.81,1082.56 1736.40,1083.20 1748.00,1083.84" fill="none" stroke="#B57FDD" stroke-width="2.6" stroke-linecap="round" stroke-linejoin="round" stroke-dasharray="16.9,9.1,3.3,9.4"/>
<polygon points="1052.30,1314.70 1063.04,1296.10 1041.56,1296.10" fill="none" stroke="#B57FDD" stroke-width="2.75" stroke-linejoin="round"/>
<polygon points="1087.09,1277.65 1097.82,1259.05 1076.35,1259.05" fill="none" stroke="#B57FDD" stroke-width="2.75" stroke-linejoin="round"/>
<polygon points="1121.87,1250.75 1132.61,1232.15 1111.13,1232.15" fill="none" stroke="#B57FDD" stroke-width="2.75" stroke-linejoin="round"/>
<polygon points="1156.65,1219.74 1167.39,1201.14 1145.92,1201.14" fill="none" stroke="#B57FDD" stroke-width="2.75" stroke-linejoin="round"/>
<polygon points="1191.44,1193.94 1202.18,1175.34 1180.70,1175.34" fill="none" stroke="#B57FDD" stroke-width="2.75" stroke-linejoin="round"/>
<polygon points="1226.22,1171.16 1236.96,1152.56 1215.49,1152.56" fill="none" stroke="#B57FDD" stroke-width="2.75" stroke-linejoin="round"/>
<polygon points="1261.01,1150.03 1271.75,1131.43 1250.27,1131.43" fill="none" stroke="#B57FDD" stroke-width="2.75" stroke-linejoin="round"/>
<polygon points="1295.80,1131.09 1306.53,1112.49 1285.06,1112.49" fill="none" stroke="#B57FDD" stroke-width="2.75" stroke-linejoin="round"/>
<polygon points="1330.58,1118.47 1341.32,1099.87 1319.84,1099.87" fill="none" stroke="#B57FDD" stroke-width="2.75" stroke-linejoin="round"/>
<polygon points="1365.37,1103.92 1376.10,1085.32 1354.63,1085.32" fill="none" stroke="#B57FDD" stroke-width="2.75" stroke-linejoin="round"/>
<polygon points="1400.15,1095.96 1410.89,1077.36 1389.41,1077.36" fill="none" stroke="#B57FDD" stroke-width="2.75" stroke-linejoin="round"/>
<polygon points="1434.93,1086.91 1445.67,1068.31 1424.20,1068.31" fill="none" stroke="#B57FDD" stroke-width="2.75" stroke-linejoin="round"/>
<polygon points="1469.72,1083.06 1480.46,1064.46 1458.98,1064.46" fill="none" stroke="#B57FDD" stroke-width="2.75" stroke-linejoin="round"/>
<polygon points="1504.51,1081.97 1515.24,1063.37 1493.77,1063.37" fill="none" stroke="#B57FDD" stroke-width="2.75" stroke-linejoin="round"/>
<polygon points="1539.29,1083.34 1550.03,1064.74 1528.55,1064.74" fill="none" stroke="#B57FDD" stroke-width="2.75" stroke-linejoin="round"/>
<polygon points="1574.08,1083.89 1584.81,1065.29 1563.34,1065.29" fill="none" stroke="#B57FDD" stroke-width="2.75" stroke-linejoin="round"/>
<polygon points="1608.86,1085.53 1619.60,1066.93 1598.12,1066.93" fill="none" stroke="#B57FDD" stroke-width="2.75" stroke-linejoin="round"/>
<polygon points="1643.64,1087.18 1654.38,1068.58 1632.91,1068.58" fill="none" stroke="#B57FDD" stroke-width="2.75" stroke-linejoin="round"/>
<polygon points="1678.43,1092.12 1689.17,1073.52 1667.69,1073.52" fill="none" stroke="#B57FDD" stroke-width="2.75" stroke-linejoin="round"/>
<polygon points="1713.22,1094.32 1723.95,1075.72 1702.48,1075.72" fill="none" stroke="#B57FDD" stroke-width="2.75" stroke-linejoin="round"/>
<polygon points="1748.00,1096.24 1758.74,1077.64 1737.26,1077.64" fill="none" stroke="#B57FDD" stroke-width="2.75" stroke-linejoin="round"/>
<path d="M1052.30,1302.30C1063.89,1289.03 1075.49,1275.77 1087.09,1265.52C1098.68,1255.28 1110.27,1248.05 1121.87,1241.88C1133.46,1235.70 1145.06,1230.58 1156.65,1224.95C1168.25,1219.32 1179.85,1213.20 1191.44,1206.93C1203.04,1200.66 1214.63,1194.26 1226.23,1188.59C1237.82,1182.91 1249.41,1177.97 1261.01,1173.03C1272.61,1168.09 1284.20,1163.15 1295.80,1158.40C1307.39,1153.64 1318.98,1149.07 1330.58,1144.49C1342.17,1139.92 1353.77,1135.34 1365.37,1131.45C1376.96,1127.57 1388.56,1124.36 1400.15,1121.25C1411.75,1118.14 1423.34,1115.13 1434.93,1112.20C1446.53,1109.27 1458.12,1106.43 1469.72,1103.74C1481.31,1101.04 1492.91,1098.48 1504.51,1096.33C1516.10,1094.18 1527.69,1092.44 1539.29,1090.74C1550.88,1089.05 1562.48,1087.41 1574.08,1086.58C1585.67,1085.76 1597.27,1085.76 1608.86,1085.76C1620.45,1085.76 1632.05,1085.76 1643.65,1086.03C1655.24,1086.31 1666.84,1086.86 1678.43,1087.41C1690.03,1087.95 1701.62,1088.50 1713.22,1088.64C1724.81,1088.78 1736.40,1088.50 1748.00,1088.23" fill="none" stroke="#D7DA0E" stroke-width="2.6" stroke-linecap="round" stroke-linejoin="round" stroke-dasharray="13.1,8.4,4.0,8.4,4.0,8.4"/>
<polygon points="1052.30,1290.90 1063.70,1302.30 1052.30,1313.70 1040.90,1302.30" fill="none" stroke="#D7DA0E" stroke-width="2.75" stroke-linejoin="round"/>
<polygon points="1087.09,1251.10 1098.49,1262.50 1087.09,1273.90 1075.68,1262.50" fill="none" stroke="#D7DA0E" stroke-width="2.75" stroke-linejoin="round"/>
<polygon points="1121.87,1229.42 1133.27,1240.82 1121.87,1252.22 1110.47,1240.82" fill="none" stroke="#D7DA0E" stroke-width="2.75" stroke-linejoin="round"/>
<polygon points="1156.65,1214.05 1168.06,1225.45 1156.65,1236.85 1145.25,1225.45" fill="none" stroke="#D7DA0E" stroke-width="2.75" stroke-linejoin="round"/>
<polygon points="1191.44,1195.67 1202.84,1207.07 1191.44,1218.47 1180.04,1207.07" fill="none" stroke="#D7DA0E" stroke-width="2.75" stroke-linejoin="round"/>
<polygon points="1226.22,1176.45 1237.62,1187.85 1226.22,1199.25 1214.82,1187.85" fill="none" stroke="#D7DA0E" stroke-width="2.75" stroke-linejoin="round"/>
<polygon points="1261.01,1161.63 1272.41,1173.03 1261.01,1184.43 1249.61,1173.03" fill="none" stroke="#D7DA0E" stroke-width="2.75" stroke-linejoin="round"/>
<polygon points="1295.80,1146.81 1307.20,1158.21 1295.80,1169.61 1284.39,1158.21" fill="none" stroke="#D7DA0E" stroke-width="2.75" stroke-linejoin="round"/>
<polygon points="1330.58,1133.09 1341.98,1144.49 1330.58,1155.89 1319.18,1144.49" fill="none" stroke="#D7DA0E" stroke-width="2.75" stroke-linejoin="round"/>
<polygon points="1365.37,1119.37 1376.77,1130.77 1365.37,1142.17 1353.96,1130.77" fill="none" stroke="#D7DA0E" stroke-width="2.75" stroke-linejoin="round"/>
<polygon points="1400.15,1109.76 1411.55,1121.16 1400.15,1132.56 1388.75,1121.16" fill="none" stroke="#D7DA0E" stroke-width="2.75" stroke-linejoin="round"/>
<polygon points="1434.93,1100.71 1446.34,1112.11 1434.93,1123.51 1423.53,1112.11" fill="none" stroke="#D7DA0E" stroke-width="2.75" stroke-linejoin="round"/>
<polygon points="1469.72,1092.20 1481.12,1103.60 1469.72,1115.00 1458.32,1103.60" fill="none" stroke="#D7DA0E" stroke-width="2.75" stroke-linejoin="round"/>
<polygon points="1504.51,1084.51 1515.91,1095.91 1504.51,1107.31 1493.11,1095.91" fill="none" stroke="#D7DA0E" stroke-width="2.75" stroke-linejoin="round"/>
<polygon points="1539.29,1079.30 1550.69,1090.70 1539.29,1102.10 1527.89,1090.70" fill="none" stroke="#D7DA0E" stroke-width="2.75" stroke-linejoin="round"/>
<polygon points="1574.08,1074.36 1585.48,1085.76 1574.08,1097.16 1562.67,1085.76" fill="none" stroke="#D7DA0E" stroke-width="2.75" stroke-linejoin="round"/>
<polygon points="1608.86,1074.36 1620.26,1085.76 1608.86,1097.16 1597.46,1085.76" fill="none" stroke="#D7DA0E" stroke-width="2.75" stroke-linejoin="round"/>
<polygon points="1643.64,1074.36 1655.05,1085.76 1643.64,1097.16 1632.24,1085.76" fill="none" stroke="#D7DA0E" stroke-width="2.75" stroke-linejoin="round"/>
<polygon points="1678.43,1076.01 1689.83,1087.41 1678.43,1098.81 1667.03,1087.41" fill="none" stroke="#D7DA0E" stroke-width="2.75" stroke-linejoin="round"/>
<polygon points="1713.22,1077.65 1724.62,1089.05 1713.22,1100.45 1701.82,1089.05" fill="none" stroke="#D7DA0E" stroke-width="2.75" stroke-linejoin="round"/>
<polygon points="1748.00,1076.83 1759.40,1088.23 1748.00,1099.63 1736.60,1088.23" fill="none" stroke="#D7DA0E" stroke-width="2.75" stroke-linejoin="round"/>
<path d="M1052.30,1302.30C1063.89,1290.41 1075.49,1278.51 1087.09,1268.82C1098.68,1259.12 1110.27,1251.62 1121.87,1244.62C1133.46,1237.62 1145.06,1231.13 1156.65,1225.09C1168.25,1219.05 1179.85,1213.47 1191.44,1208.03C1203.04,1202.58 1214.63,1197.28 1226.23,1191.93C1237.82,1186.57 1249.41,1181.18 1261.01,1176.28C1272.61,1171.39 1284.20,1167.00 1295.80,1162.60C1307.39,1158.21 1318.98,1153.82 1330.58,1149.75C1342.17,1145.68 1353.77,1141.93 1365.37,1138.45C1376.96,1134.98 1388.56,1131.78 1400.15,1128.53C1411.75,1125.28 1423.34,1121.99 1434.93,1119.42C1446.53,1116.86 1458.12,1115.03 1469.72,1114.07C1481.31,1113.11 1492.91,1113.02 1504.51,1112.52C1516.10,1112.01 1527.69,1111.10 1539.29,1109.00C1550.88,1106.89 1562.48,1103.60 1574.08,1102.09C1585.67,1100.58 1597.27,1100.85 1608.86,1100.85C1620.45,1100.85 1632.05,1100.58 1643.65,1099.98C1655.24,1099.39 1666.84,1098.48 1678.43,1098.02C1690.03,1097.56 1701.62,1097.56 1713.22,1097.56C1724.81,1097.56 1736.40,1097.56 1748.00,1097.56" fill="none" stroke="#1FCDB9" stroke-width="2.6" stroke-linecap="round" stroke-linejoin="round" stroke-dasharray="6.6,7.4"/>
<polygon points="1039.90,1302.30 1058.50,1291.56 1058.50,1313.04" fill="none" stroke="#1FCDB9" stroke-width="2.75" stroke-linejoin="round"/>
<polygon points="1074.68,1266.62 1093.29,1255.88 1093.29,1277.36" fill="none" stroke="#1FCDB9" stroke-width="2.75" stroke-linejoin="round"/>
<polygon points="1109.47,1244.12 1128.07,1233.38 1128.07,1254.86" fill="none" stroke="#1FCDB9" stroke-width="2.75" stroke-linejoin="round"/>
<polygon points="1144.25,1224.63 1162.86,1213.89 1162.86,1235.37" fill="none" stroke="#1FCDB9" stroke-width="2.75" stroke-linejoin="round"/>
<polygon points="1179.04,1207.89 1197.64,1197.15 1197.64,1218.63" fill="none" stroke="#1FCDB9" stroke-width="2.75" stroke-linejoin="round"/>
<polygon points="1213.82,1191.97 1232.42,1181.23 1232.42,1202.71" fill="none" stroke="#1FCDB9" stroke-width="2.75" stroke-linejoin="round"/>
<polygon points="1248.61,1175.78 1267.21,1165.04 1267.21,1186.52" fill="none" stroke="#1FCDB9" stroke-width="2.75" stroke-linejoin="round"/>
<polygon points="1283.39,1162.60 1302.00,1151.87 1302.00,1173.34" fill="none" stroke="#1FCDB9" stroke-width="2.75" stroke-linejoin="round"/>
<polygon points="1318.18,1149.43 1336.78,1138.69 1336.78,1160.17" fill="none" stroke="#1FCDB9" stroke-width="2.75" stroke-linejoin="round"/>
<polygon points="1352.96,1138.18 1371.57,1127.44 1371.57,1148.92" fill="none" stroke="#1FCDB9" stroke-width="2.75" stroke-linejoin="round"/>
<polygon points="1387.75,1128.57 1406.35,1117.83 1406.35,1139.31" fill="none" stroke="#1FCDB9" stroke-width="2.75" stroke-linejoin="round"/>
<polygon points="1422.53,1118.69 1441.13,1107.95 1441.13,1129.43" fill="none" stroke="#1FCDB9" stroke-width="2.75" stroke-linejoin="round"/>
<polygon points="1457.32,1113.20 1475.92,1102.47 1475.92,1123.94" fill="none" stroke="#1FCDB9" stroke-width="2.75" stroke-linejoin="round"/>
<polygon points="1492.11,1112.93 1510.71,1102.19 1510.71,1123.67" fill="none" stroke="#1FCDB9" stroke-width="2.75" stroke-linejoin="round"/>
<polygon points="1526.89,1110.18 1545.49,1099.45 1545.49,1120.92" fill="none" stroke="#1FCDB9" stroke-width="2.75" stroke-linejoin="round"/>
<polygon points="1561.67,1100.30 1580.28,1089.57 1580.28,1111.04" fill="none" stroke="#1FCDB9" stroke-width="2.75" stroke-linejoin="round"/>
<polygon points="1596.46,1101.13 1615.06,1090.39 1615.06,1111.87" fill="none" stroke="#1FCDB9" stroke-width="2.75" stroke-linejoin="round"/>
<polygon points="1631.24,1100.30 1649.85,1089.57 1649.85,1111.04" fill="none" stroke="#1FCDB9" stroke-width="2.75" stroke-linejoin="round"/>
<polygon points="1666.03,1097.56 1684.63,1086.82 1684.63,1108.30" fill="none" stroke="#1FCDB9" stroke-width="2.75" stroke-linejoin="round"/>
<polygon points="1700.82,1097.56 1719.42,1086.82 1719.42,1108.30" fill="none" stroke="#1FCDB9" stroke-width="2.75" stroke-linejoin="round"/>
<polygon points="1735.60,1097.56 1754.20,1086.82 1754.20,1108.30" fill="none" stroke="#1FCDB9" stroke-width="2.75" stroke-linejoin="round"/>
<path d="M1052.30,1302.30C1063.89,1290.59 1075.49,1278.88 1087.09,1269.41C1098.68,1259.94 1110.27,1252.72 1121.87,1246.27C1133.46,1239.82 1145.06,1234.14 1156.65,1228.61C1168.25,1223.08 1179.85,1217.68 1191.44,1212.60C1203.04,1207.52 1214.63,1202.77 1226.23,1197.14C1237.82,1191.51 1249.41,1185.02 1261.01,1179.85C1272.61,1174.68 1284.20,1170.84 1295.80,1166.58C1307.39,1162.33 1318.98,1157.66 1330.58,1152.86C1342.17,1148.06 1353.77,1143.12 1365.37,1140.10C1376.96,1137.08 1388.56,1135.98 1400.15,1134.52C1411.75,1133.06 1423.34,1131.23 1434.93,1129.08C1446.53,1126.93 1458.12,1124.46 1469.72,1122.26C1481.31,1120.07 1492.91,1118.14 1504.51,1116.63C1516.10,1115.13 1527.69,1114.03 1539.29,1113.02C1550.88,1112.01 1562.48,1111.10 1574.08,1110.23C1585.67,1109.36 1597.27,1108.54 1608.86,1107.99C1620.45,1107.44 1632.05,1107.17 1643.65,1106.75C1655.24,1106.34 1666.84,1105.79 1678.43,1105.38C1690.03,1104.97 1701.62,1104.70 1713.22,1104.70C1724.81,1104.70 1736.40,1104.97 1748.00,1105.24" fill="none" stroke="#F26AF2" stroke-width="2.6" stroke-linecap="round" stroke-linejoin="round" stroke-dasharray="1.9,4.9"/>
<polygon points="1064.70,1302.30 1046.10,1291.56 1046.10,1313.04" fill="none" stroke="#F26AF2" stroke-width="2.75" stroke-linejoin="round"/>
<polygon points="1099.49,1267.17 1080.88,1256.43 1080.88,1277.91" fill="none" stroke="#F26AF2" stroke-width="2.75" stroke-linejoin="round"/>
<polygon points="1134.27,1245.49 1115.67,1234.75 1115.67,1256.23" fill="none" stroke="#F26AF2" stroke-width="2.75" stroke-linejoin="round"/>
<polygon points="1169.06,1228.47 1150.45,1217.73 1150.45,1239.21" fill="none" stroke="#F26AF2" stroke-width="2.75" stroke-linejoin="round"/>
<polygon points="1203.84,1212.28 1185.24,1201.54 1185.24,1223.02" fill="none" stroke="#F26AF2" stroke-width="2.75" stroke-linejoin="round"/>
<polygon points="1238.62,1198.01 1220.02,1187.27 1220.02,1208.75" fill="none" stroke="#F26AF2" stroke-width="2.75" stroke-linejoin="round"/>
<polygon points="1273.41,1178.52 1254.81,1167.78 1254.81,1189.26" fill="none" stroke="#F26AF2" stroke-width="2.75" stroke-linejoin="round"/>
<polygon points="1308.20,1167.00 1289.60,1156.26 1289.60,1177.73" fill="none" stroke="#F26AF2" stroke-width="2.75" stroke-linejoin="round"/>
<polygon points="1342.98,1153.00 1324.38,1142.26 1324.38,1163.74" fill="none" stroke="#F26AF2" stroke-width="2.75" stroke-linejoin="round"/>
<polygon points="1377.77,1138.18 1359.16,1127.44 1359.16,1148.92" fill="none" stroke="#F26AF2" stroke-width="2.75" stroke-linejoin="round"/>
<polygon points="1412.55,1134.89 1393.95,1124.15 1393.95,1145.62" fill="none" stroke="#F26AF2" stroke-width="2.75" stroke-linejoin="round"/>
<polygon points="1447.34,1129.40 1428.73,1118.66 1428.73,1140.13" fill="none" stroke="#F26AF2" stroke-width="2.75" stroke-linejoin="round"/>
<polygon points="1482.12,1121.99 1463.52,1111.25 1463.52,1132.72" fill="none" stroke="#F26AF2" stroke-width="2.75" stroke-linejoin="round"/>
<polygon points="1516.91,1116.22 1498.31,1105.48 1498.31,1126.96" fill="none" stroke="#F26AF2" stroke-width="2.75" stroke-linejoin="round"/>
<polygon points="1551.69,1112.93 1533.09,1102.19 1533.09,1123.67" fill="none" stroke="#F26AF2" stroke-width="2.75" stroke-linejoin="round"/>
<polygon points="1586.48,1110.18 1567.88,1099.45 1567.88,1120.92" fill="none" stroke="#F26AF2" stroke-width="2.75" stroke-linejoin="round"/>
<polygon points="1621.26,1107.71 1602.66,1096.98 1602.66,1118.45" fill="none" stroke="#F26AF2" stroke-width="2.75" stroke-linejoin="round"/>
<polygon points="1656.05,1106.89 1637.44,1096.15 1637.44,1117.63" fill="none" stroke="#F26AF2" stroke-width="2.75" stroke-linejoin="round"/>
<polygon points="1690.83,1105.24 1672.23,1094.51 1672.23,1115.98" fill="none" stroke="#F26AF2" stroke-width="2.75" stroke-linejoin="round"/>
<polygon points="1725.62,1104.42 1707.02,1093.68 1707.02,1115.16" fill="none" stroke="#F26AF2" stroke-width="2.75" stroke-linejoin="round"/>
<polygon points="1760.40,1105.24 1741.80,1094.51 1741.80,1115.98" fill="none" stroke="#F26AF2" stroke-width="2.75" stroke-linejoin="round"/>
<g class="tk"><text transform="translate(1052.30,1346.80) scale(1,1.065)" text-anchor="middle">0</text><text transform="translate(1226.22,1346.80) scale(1,1.065)" text-anchor="middle">1</text><text transform="translate(1400.15,1346.80) scale(1,1.065)" text-anchor="middle">2</text><text transform="translate(1574.08,1346.80) scale(1,1.065)" text-anchor="middle">3</text><text transform="translate(1748.00,1346.80) scale(1,1.065)" text-anchor="middle">4</text><text transform="translate(1035.70,1313.30) scale(1,1.065)" text-anchor="end">0</text><text transform="translate(1035.70,1176.08) scale(1,1.065)" text-anchor="end">50</text><text transform="translate(1035.70,1038.85) scale(1,1.065)" text-anchor="end">100</text><text transform="translate(1035.70,901.62) scale(1,1.065)" text-anchor="end">150</text><text transform="translate(1035.70,764.40) scale(1,1.065)" text-anchor="end">200</text></g>
<text class="tt" x="1400.15" y="1401.50" text-anchor="middle">Shear displacement, <tspan font-style="italic">ΔL</tspan> (mm)</text>
<text class="tt" transform="translate(954.60,1027.85) rotate(-90)" text-anchor="middle">Shear stress, <tspan font-style="italic" dx="3">τ</tspan><tspan dx="-1.8"> (kPa)</tspan></text>
<text class="pl" x="907.90" y="763.80">(d)</text>
<path d="M1072.70,783.00H1140.80" fill="none" stroke="#6396F6" stroke-width="2.6" stroke-linecap="round" stroke-linejoin="round"/>
<rect x="1099.18" y="775.28" width="15.44" height="15.44" fill="none" stroke="#6396F6" stroke-width="2.75"/>
<text class="lg" x="1148.10" y="793.70"><tspan font-style="italic">N</tspan><tspan dx="-2.4"> =0</tspan></text>
<path d="M1072.70,820.75H1140.80" fill="none" stroke="#F0706A" stroke-width="2.6" stroke-linecap="round" stroke-linejoin="round" stroke-dasharray="14.1,16.9"/>
<circle cx="1106.90" cy="820.75" r="8.8" fill="none" stroke="#F0706A" stroke-width="2.75"/>
<text class="lg" x="1148.10" y="831.45"><tspan font-style="italic">N</tspan><tspan dx="-2.4"> =1</tspan></text>
<path d="M1072.70,858.50H1140.80" fill="none" stroke="#04B830" stroke-width="2.6" stroke-linecap="round" stroke-linejoin="round" stroke-dasharray="4.1,14.3"/>
<polygon points="1106.90,846.10 1117.64,864.70 1096.16,864.70" fill="none" stroke="#04B830" stroke-width="2.75" stroke-linejoin="round"/>
<text class="lg" x="1148.10" y="869.20"><tspan font-style="italic">N</tspan><tspan dx="-2.4"> =2</tspan></text>
<path d="M1072.70,896.25H1140.80" fill="none" stroke="#B57FDD" stroke-width="2.6" stroke-linecap="round" stroke-linejoin="round" stroke-dasharray="16.9,9.1,3.3,9.4"/>
<polygon points="1106.90,908.65 1117.64,890.05 1096.16,890.05" fill="none" stroke="#B57FDD" stroke-width="2.75" stroke-linejoin="round"/>
<text class="lg" x="1148.10" y="906.95"><tspan font-style="italic">N</tspan><tspan dx="-2.4"> =3</tspan></text>
<path d="M1072.70,934.00H1140.80" fill="none" stroke="#D7DA0E" stroke-width="2.6" stroke-linecap="round" stroke-linejoin="round" stroke-dasharray="13.1,8.4,4.0,8.4,4.0,8.4"/>
<polygon points="1106.90,922.60 1118.30,934.00 1106.90,945.40 1095.50,934.00" fill="none" stroke="#D7DA0E" stroke-width="2.75" stroke-linejoin="round"/>
<text class="lg" x="1148.10" y="944.70"><tspan font-style="italic">N</tspan><tspan dx="-2.4"> =4</tspan></text>
<path d="M1072.70,971.75H1140.80" fill="none" stroke="#1FCDB9" stroke-width="2.6" stroke-linecap="round" stroke-linejoin="round" stroke-dasharray="6.6,7.4"/>
<polygon points="1094.50,971.75 1113.10,961.01 1113.10,982.49" fill="none" stroke="#1FCDB9" stroke-width="2.75" stroke-linejoin="round"/>
<text class="lg" x="1148.10" y="982.45"><tspan font-style="italic">N</tspan><tspan dx="-2.4"> =5</tspan></text>
<path d="M1072.70,1009.50H1140.80" fill="none" stroke="#F26AF2" stroke-width="2.6" stroke-linecap="round" stroke-linejoin="round" stroke-dasharray="1.9,4.9"/>
<polygon points="1119.30,1009.50 1100.70,998.76 1100.70,1020.24" fill="none" stroke="#F26AF2" stroke-width="2.75" stroke-linejoin="round"/>
<text class="lg" x="1148.10" y="1020.20"><tspan font-style="italic">N</tspan><tspan dx="-2.4"> =10</tspan></text>
<text class="pr" x="1073.20" y="1057.90">150 kPa</text>
</svg>
</body></html>
